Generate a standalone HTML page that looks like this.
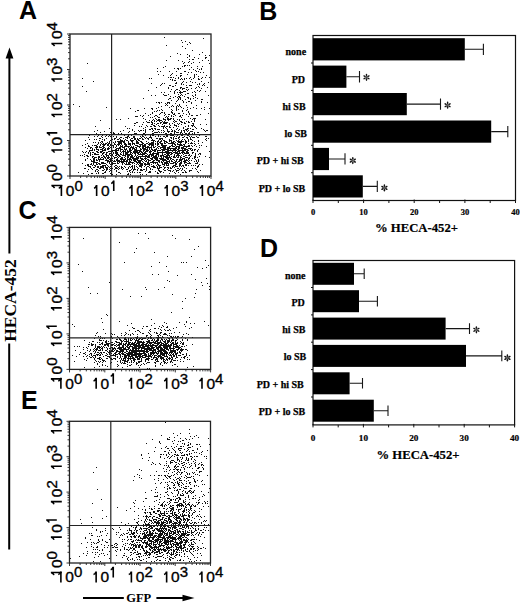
<!DOCTYPE html>
<html><head><meta charset="utf-8"><style>
html,body{margin:0;padding:0;background:#fff;width:520px;height:603px;overflow:hidden}
svg{display:block}
</style></head><body>
<svg width="520" height="603" viewBox="0 0 520 603">
<rect width="520" height="603" fill="#fff"/>
<path d="M145 127.5h1M179 144.5h1M119 144.5h1M192 133.5h1M135 149.5h1M136 158.5h1M178 172.5h1M148 144.5h1M157 166.5h1M109 146.5h1M151 159.5h1M135 154.5h1M174 167.5h1M142 159.5h1M162 162.5h1M135 152.5h1M149 167.5h1M125 156.5h1M130 139.5h1M169 139.5h1M143 133.5h1M129 149.5h1M192 158.5h1M173 150.5h1M169 146.5h1M165 151.5h1M127 138.5h1M107 160.5h1M199 156.5h1M164 170.5h1M125 158.5h1M171 140.5h1M167 153.5h1M170 146.5h1M198 149.5h1M120 143.5h1M156 162.5h1M158 148.5h1M126 146.5h1M157 141.5h1M190 139.5h1M165 159.5h1M134 169.5h1M189 160.5h1M159 139.5h1M158 164.5h1M168 168.5h1M130 167.5h1M168 167.5h1M165 146.5h1M161 162.5h1M114 160.5h1M179 141.5h1M126 144.5h1M119 144.5h1M184 162.5h1M183 172.5h1M174 150.5h1M150 135.5h1M133 157.5h1M108 156.5h1M166 135.5h1M173 156.5h1M132 172.5h1M131 154.5h1M179 160.5h1M169 147.5h1M192 131.5h1M112 162.5h1M162 152.5h1M180 158.5h1M146 161.5h1M168 149.5h1M121 137.5h1M154 149.5h1M189 158.5h1M176 148.5h1M187 151.5h1M165 145.5h1M137 159.5h1M175 152.5h1M128 136.5h1M187 153.5h1M105 143.5h1M174 154.5h1M117 153.5h1M140 161.5h1M134 123.5h1M165 141.5h1M122 141.5h1M140 141.5h1M100 164.5h1M132 162.5h1M148 155.5h1M116 171.5h1M157 163.5h1M137 145.5h1M165 163.5h1M149 155.5h1M178 155.5h1M158 154.5h1M169 162.5h1M151 144.5h1M130 149.5h1M191 170.5h1M129 161.5h1M120 154.5h1M108 136.5h1M140 163.5h1M167 169.5h1M174 143.5h1M127 154.5h1M146 153.5h1M151 148.5h1M155 143.5h1M144 152.5h1M169 156.5h1M182 153.5h1M136 166.5h1M147 164.5h1M133 147.5h1M123 151.5h1M122 163.5h1M132 148.5h1M128 152.5h1M146 167.5h1M145 156.5h1M192 168.5h1M175 163.5h1M178 150.5h1M164 167.5h1M167 167.5h1M192 149.5h1M168 164.5h1M154 156.5h1M117 156.5h1M156 155.5h1M122 149.5h1M127 158.5h1M155 162.5h1M163 158.5h1M115 141.5h1M172 144.5h1M152 154.5h1M133 140.5h1M189 146.5h1M140 165.5h1M125 137.5h1M178 124.5h1M117 150.5h1M161 171.5h1M126 137.5h1M151 147.5h1M131 155.5h1M145 155.5h1M181 157.5h1M149 157.5h1M171 158.5h1M149 143.5h1M145 158.5h1M146 149.5h1M180 174.5h1M129 164.5h1M200 154.5h1M170 163.5h1M132 153.5h1M158 154.5h1M136 151.5h1M133 157.5h1M142 147.5h1M116 168.5h1M160 158.5h1M186 137.5h1M141 158.5h1M178 137.5h1M160 150.5h1M127 156.5h1M181 152.5h1M116 136.5h1M137 157.5h1M193 165.5h1M143 148.5h1M176 146.5h1M162 144.5h1M168 170.5h1M161 149.5h1M135 153.5h1M166 156.5h1M112 158.5h1M144 148.5h1M144 154.5h1M156 154.5h1M110 132.5h1M137 153.5h1M139 166.5h1M144 163.5h1M180 162.5h1M155 171.5h1M178 142.5h1M164 134.5h1M166 160.5h1M110 144.5h1M166 162.5h1M117 161.5h1M119 172.5h1M198 154.5h1M164 140.5h1M178 140.5h1M156 148.5h1M154 156.5h1M124 141.5h1M131 135.5h1M159 162.5h1M147 151.5h1M120 154.5h1M196 160.5h1M134 166.5h1M165 162.5h1M117 152.5h1M166 151.5h1M144 152.5h1M124 140.5h1M121 161.5h1M115 167.5h1M124 166.5h1M154 149.5h1M145 159.5h1M185 171.5h1M175 144.5h1M188 139.5h1M166 152.5h1M168 147.5h1M195 168.5h1M114 169.5h1M127 152.5h1M139 151.5h1M113 156.5h1M154 157.5h1M135 160.5h1M139 138.5h1M139 163.5h1M125 155.5h1M180 142.5h1M166 164.5h1M168 152.5h1M123 155.5h1M148 147.5h1M121 157.5h1M133 162.5h1M102 142.5h1M129 154.5h1M129 159.5h1M141 144.5h1M161 147.5h1M190 143.5h1M138 142.5h1M122 145.5h1M176 160.5h1M120 150.5h1M134 150.5h1M197 150.5h1M170 150.5h1M144 153.5h1M132 158.5h1M142 154.5h1M136 164.5h1M196 163.5h1M143 146.5h1M109 157.5h1M187 153.5h1M179 159.5h1M127 171.5h1M129 158.5h1M133 136.5h1M116 155.5h1M172 161.5h1M158 146.5h1M125 159.5h1M180 160.5h1M178 170.5h1M198 172.5h1M162 149.5h1M164 152.5h1M127 153.5h1M116 146.5h1M105 158.5h1M199 153.5h1M166 163.5h1M187 163.5h1M145 161.5h1M170 143.5h1M127 146.5h1M127 164.5h1M140 157.5h1M150 152.5h1M155 162.5h1M155 146.5h1M139 162.5h1M153 157.5h1M189 157.5h1M158 173.5h1M185 172.5h1M124 163.5h1M146 141.5h1M164 147.5h1M174 149.5h1M134 160.5h1M148 159.5h1M192 153.5h1M149 151.5h1M158 170.5h1M121 161.5h1M123 162.5h1M127 140.5h1M131 159.5h1M186 162.5h1M112 145.5h1M155 158.5h1M107 144.5h1M163 164.5h1M115 134.5h1M117 154.5h1M115 152.5h1M139 156.5h1M150 154.5h1M166 153.5h1M137 157.5h1M126 140.5h1M172 167.5h1M117 158.5h1M174 155.5h1M178 138.5h1M130 148.5h1M157 154.5h1M126 162.5h1M121 133.5h1M149 144.5h1M139 126.5h1M150 169.5h1M152 135.5h1M145 155.5h1M184 163.5h1M133 152.5h1M192 152.5h1M155 157.5h1M127 169.5h1M107 157.5h1M159 167.5h1M145 153.5h1M146 168.5h1M157 151.5h1M122 158.5h1M173 143.5h1M122 162.5h1M164 168.5h1M175 169.5h1M186 151.5h1M171 112.5h1M128 168.5h1M149 160.5h1M151 137.5h1M157 147.5h1M154 140.5h1M163 150.5h1M134 149.5h1M140 153.5h1M153 166.5h1M150 152.5h1M125 164.5h1M199 147.5h1M144 156.5h1M188 153.5h1M170 134.5h1M181 163.5h1M130 148.5h1M146 174.5h1M132 129.5h1M134 138.5h1M121 158.5h1M140 174.5h1M158 161.5h1M153 145.5h1M184 156.5h1M142 164.5h1M154 153.5h1M179 155.5h1M145 145.5h1M119 148.5h1M137 160.5h1M176 163.5h1M188 155.5h1M156 157.5h1M121 152.5h1M181 166.5h1M128 154.5h1M145 164.5h1M161 149.5h1M138 152.5h1M140 158.5h1M186 172.5h1M133 143.5h1M164 164.5h1M112 160.5h1M132 156.5h1M133 151.5h1M194 161.5h1M163 161.5h1M184 170.5h1M104 144.5h1M169 160.5h1M139 160.5h1M166 161.5h1M138 146.5h1M155 144.5h1M132 166.5h1M142 154.5h1M143 148.5h1M110 170.5h1M143 159.5h1M150 147.5h1M138 143.5h1M190 170.5h1M157 167.5h1M160 143.5h1M184 159.5h1M128 151.5h1M125 167.5h1M132 142.5h1M122 151.5h1M154 140.5h1M158 165.5h1M120 161.5h1M164 168.5h1M150 168.5h1M152 169.5h1M178 153.5h1M182 165.5h1M132 156.5h1M124 163.5h1M188 152.5h1M128 147.5h1M168 147.5h1M139 146.5h1M155 157.5h1M147 148.5h1M183 158.5h1M106 164.5h1M140 169.5h1M158 156.5h1M143 153.5h1M142 138.5h1M181 161.5h1M132 140.5h1M163 172.5h1M178 156.5h1M172 130.5h1M172 159.5h1M166 165.5h1M177 166.5h1M139 131.5h1M171 142.5h1M166 161.5h1M187 160.5h1M169 157.5h1M114 138.5h1M150 143.5h1M174 148.5h1M157 138.5h1M136 161.5h1M113 152.5h1M130 140.5h1M177 149.5h1M110 147.5h1M134 158.5h1M139 156.5h1M159 161.5h1M138 153.5h1M170 154.5h1M132 157.5h1M173 170.5h1M185 155.5h1M175 142.5h1M129 164.5h1M164 160.5h1M177 155.5h1M141 144.5h1M121 137.5h1M135 151.5h1M165 154.5h1M113 163.5h1M144 150.5h1M133 158.5h1M172 153.5h1M126 164.5h1M106 143.5h1M145 159.5h1M149 171.5h1M163 155.5h1M131 166.5h1M168 149.5h1M158 140.5h1M187 149.5h1M167 156.5h1M129 163.5h1M162 160.5h1M145 132.5h1M191 143.5h1M107 165.5h1M148 164.5h1M150 150.5h1M138 153.5h1M167 153.5h1M161 147.5h1M140 166.5h1M171 163.5h1M130 143.5h1M155 151.5h1M168 157.5h1M119 155.5h1M143 147.5h1M177 151.5h1M196 161.5h1M198 166.5h1M113 145.5h1M168 167.5h1M168 132.5h1M183 166.5h1M163 160.5h1M166 142.5h1M161 138.5h1M157 153.5h1M152 155.5h1M122 159.5h1M191 145.5h1M166 145.5h1M131 152.5h1M178 151.5h1M132 147.5h1M155 158.5h1M151 158.5h1M131 141.5h1M122 149.5h1M118 141.5h1M118 149.5h1M113 150.5h1M108 145.5h1M179 146.5h1M152 135.5h1M120 147.5h1M161 159.5h1M145 158.5h1M144 164.5h1M129 151.5h1M153 161.5h1M186 168.5h1M148 147.5h1M135 138.5h1M189 171.5h1M133 143.5h1M175 151.5h1M145 165.5h1M178 161.5h1M148 156.5h1M167 129.5h1M143 151.5h1M170 137.5h1M185 160.5h1M167 142.5h1M194 145.5h1M185 161.5h1M176 160.5h1M175 148.5h1M129 170.5h1M195 154.5h1M137 167.5h1M143 154.5h1M120 149.5h1M186 146.5h1M140 149.5h1M164 156.5h1M136 159.5h1M145 163.5h1M135 160.5h1M137 158.5h1M117 159.5h1M157 152.5h1M178 161.5h1M132 171.5h1M129 146.5h1M137 162.5h1M111 171.5h1M165 163.5h1M127 157.5h1M161 156.5h1M183 151.5h1M180 133.5h1M180 168.5h1M192 137.5h1M141 152.5h1M145 157.5h1M115 157.5h1M165 147.5h1M183 165.5h1M140 170.5h1M121 168.5h1M128 152.5h1M177 153.5h1M120 137.5h1M123 159.5h1M140 145.5h1M161 167.5h1M173 156.5h1M123 142.5h1M165 157.5h1M168 148.5h1M141 167.5h1M163 164.5h1M154 160.5h1M119 166.5h1M157 159.5h1M132 138.5h1M153 156.5h1M179 151.5h1M193 137.5h1M158 153.5h1M127 155.5h1M163 159.5h1M138 142.5h1M119 144.5h1M154 132.5h1M174 132.5h1M177 170.5h1M188 145.5h1M134 131.5h1M143 150.5h1M126 152.5h1M144 166.5h1M188 141.5h1M141 164.5h1M183 152.5h1M165 157.5h1M130 148.5h1M167 158.5h1M188 158.5h1M185 142.5h1M121 154.5h1M195 144.5h1M184 160.5h1M134 137.5h1M129 148.5h1M192 140.5h1M149 145.5h1M141 170.5h1M123 142.5h1M159 158.5h1M136 158.5h1M152 162.5h1M156 159.5h1M158 150.5h1M161 144.5h1M170 157.5h1M179 147.5h1M138 150.5h1M171 160.5h1M134 167.5h1M134 168.5h1M181 140.5h1M186 160.5h1M179 141.5h1M128 156.5h1M134 144.5h1M162 163.5h1M170 167.5h1M180 156.5h1M140 172.5h1M180 168.5h1M144 149.5h1M129 137.5h1M130 152.5h1M197 171.5h1M199 164.5h1M116 152.5h1M142 155.5h1M166 128.5h1M118 133.5h1M118 157.5h1M104 131.5h1M175 164.5h1M146 164.5h1M123 138.5h1M175 165.5h1M135 159.5h1M163 136.5h1M142 158.5h1M138 139.5h1M147 146.5h1M105 158.5h1M131 147.5h1M177 141.5h1M189 145.5h1M147 162.5h1M162 143.5h1M167 157.5h1M180 153.5h1M169 143.5h1M120 139.5h1M132 168.5h1M176 160.5h1M168 155.5h1M125 159.5h1M169 150.5h1M181 147.5h1M147 146.5h1M156 157.5h1M116 119.5h1M152 166.5h1M120 156.5h1M165 137.5h1M161 145.5h1M153 145.5h1M104 140.5h1M167 155.5h1M173 152.5h1M132 141.5h1M155 136.5h1M197 167.5h1M122 159.5h1M188 153.5h1M192 143.5h1M177 166.5h1M180 143.5h1M126 160.5h1M157 145.5h1M192 150.5h1M116 137.5h1M180 164.5h1M124 147.5h1M176 156.5h1M164 160.5h1M180 143.5h1M132 163.5h1M142 145.5h1M199 164.5h1M114 166.5h1M124 146.5h1M186 130.5h1M173 148.5h1M115 163.5h1M192 150.5h1M128 156.5h1M198 160.5h1M172 151.5h1M99 147.5h1M110 145.5h1M128 164.5h1M196 136.5h1M171 156.5h1M146 170.5h1M169 162.5h1M141 152.5h1M144 163.5h1M136 151.5h1M190 163.5h1M179 142.5h1M150 152.5h1M140 156.5h1M185 143.5h1M147 164.5h1M124 155.5h1M151 147.5h1M167 150.5h1M168 153.5h1M115 144.5h1M198 159.5h1M153 154.5h1M105 163.5h1M183 154.5h1M181 166.5h1M175 166.5h1M109 154.5h1M167 165.5h1M153 146.5h1M177 143.5h1M149 148.5h1M120 146.5h1M190 148.5h1M176 170.5h1M154 166.5h1M131 150.5h1M164 165.5h1M175 161.5h1M195 154.5h1M114 150.5h1M145 171.5h1M116 154.5h1M130 145.5h1M168 150.5h1M137 138.5h1M124 159.5h1M104 140.5h1M175 131.5h1M164 146.5h1M134 143.5h1M172 143.5h1M167 161.5h1M172 142.5h1M118 167.5h1M141 151.5h1M163 148.5h1M188 140.5h1M166 155.5h1M181 144.5h1M162 154.5h1M182 137.5h1M135 161.5h1M110 159.5h1M130 150.5h1M128 136.5h1M110 151.5h1M131 154.5h1M157 160.5h1M136 143.5h1M142 161.5h1M166 156.5h1M177 157.5h1M164 142.5h1M147 163.5h1M166 163.5h1M179 152.5h1M115 153.5h1M133 170.5h1M168 163.5h1M134 161.5h1M115 153.5h1M134 163.5h1M113 133.5h1M140 151.5h1M119 141.5h1M139 150.5h1M123 151.5h1M137 146.5h1M116 157.5h1M157 173.5h1M173 149.5h1M159 162.5h1M185 140.5h1M173 163.5h1M139 152.5h1M113 153.5h1M174 160.5h1M140 158.5h1M136 156.5h1M163 152.5h1M175 151.5h1M144 153.5h1M150 154.5h1M162 139.5h1M140 146.5h1M155 167.5h1M165 163.5h1M125 159.5h1M205 136.5h1M179 152.5h1M179 151.5h1M185 153.5h1M186 147.5h1M138 154.5h1M186 162.5h1M174 160.5h1M151 146.5h1M167 158.5h1M128 174.5h1M188 148.5h1M150 151.5h1M125 139.5h1M107 152.5h1M169 153.5h1M135 155.5h1M186 162.5h1M133 151.5h1M127 159.5h1M185 165.5h1M146 155.5h1M186 153.5h1M187 150.5h1M122 146.5h1M138 130.5h1M142 156.5h1M179 139.5h1M146 153.5h1M153 152.5h1M161 145.5h1M145 163.5h1M168 154.5h1M96 146.5h1M131 169.5h1M168 164.5h1M150 158.5h1M141 154.5h1M136 145.5h1M121 167.5h1M148 139.5h1M206 146.5h1M150 147.5h1M181 150.5h1M174 162.5h1M192 146.5h1M191 155.5h1M155 158.5h1M145 163.5h1M154 156.5h1M147 146.5h1M176 171.5h1M130 162.5h1M153 156.5h1M176 156.5h1M152 159.5h1M149 152.5h1M110 153.5h1M198 143.5h1M158 169.5h1M136 141.5h1M166 145.5h1M174 172.5h1M174 152.5h1M169 139.5h1M135 139.5h1M135 152.5h1M162 162.5h1M160 141.5h1M159 170.5h1M137 170.5h1M144 145.5h1M170 167.5h1M147 148.5h1M186 165.5h1M118 160.5h1M178 141.5h1M130 154.5h1M148 147.5h1M205 156.5h1M138 158.5h1M121 161.5h1M189 163.5h1M195 149.5h1M145 149.5h1M113 136.5h1M160 150.5h1M131 156.5h1M124 148.5h1M187 138.5h1M150 169.5h1M142 136.5h1M112 162.5h1M139 162.5h1M178 126.5h1M136 142.5h1M135 159.5h1M157 144.5h1M134 139.5h1M163 146.5h1M180 142.5h1M125 150.5h1M151 148.5h1M163 166.5h1M138 164.5h1M133 151.5h1M119 168.5h1M159 146.5h1M174 154.5h1M117 141.5h1M177 144.5h1M182 158.5h1M196 169.5h1M175 153.5h1M157 132.5h1M155 153.5h1M145 147.5h1M156 154.5h1M168 147.5h1M149 156.5h1M165 170.5h1M187 146.5h1M140 154.5h1M136 122.5h1M131 162.5h1M167 153.5h1M159 158.5h1M175 147.5h1M153 144.5h1M140 148.5h1M182 153.5h1M114 161.5h1M134 152.5h1M180 144.5h1M115 152.5h1M174 136.5h1M145 159.5h1M132 144.5h1M188 159.5h1M118 142.5h1M209 157.5h1M142 138.5h1M122 140.5h1M150 160.5h1M194 150.5h1M179 164.5h1M151 143.5h1M155 149.5h1M132 157.5h1M202 164.5h1M151 162.5h1M159 138.5h1M164 143.5h1M178 156.5h1M137 150.5h1M158 144.5h1M132 155.5h1M169 173.5h1M206 136.5h1M173 157.5h1M146 160.5h1M186 153.5h1M166 164.5h1M153 165.5h1M128 151.5h1M142 161.5h1M155 149.5h1M121 149.5h1M155 132.5h1M183 156.5h1M159 152.5h1M164 159.5h1M128 141.5h1M118 148.5h1M124 149.5h1M114 133.5h1M153 150.5h1M159 150.5h1M154 167.5h1M134 172.5h1M124 159.5h1M136 152.5h1M179 165.5h1M155 163.5h1M111 145.5h1M147 159.5h1M119 160.5h1M189 157.5h1M188 165.5h1M157 144.5h1M175 138.5h1M159 142.5h1M183 137.5h1M127 174.5h1M142 144.5h1M166 155.5h1M184 139.5h1M139 160.5h1M162 145.5h1M148 134.5h1M146 147.5h1M171 152.5h1M122 155.5h1M146 147.5h1M151 155.5h1M195 165.5h1M170 146.5h1M171 135.5h1M190 149.5h1M141 141.5h1M154 140.5h1M135 152.5h1M142 153.5h1M184 161.5h1M176 150.5h1M179 147.5h1M167 163.5h1M183 156.5h1M187 160.5h1M180 145.5h1M136 149.5h1M155 156.5h1M133 143.5h1M187 146.5h1M140 153.5h1M192 152.5h1M120 148.5h1M136 147.5h1M147 148.5h1M163 145.5h1M120 158.5h1M126 137.5h1M177 154.5h1M181 155.5h1M112 139.5h1M142 142.5h1M157 172.5h1M169 153.5h1M150 144.5h1M142 147.5h1M170 170.5h1M165 160.5h1M123 161.5h1M173 146.5h1M142 143.5h1M175 149.5h1M167 153.5h1M125 161.5h1M171 141.5h1M148 147.5h1M145 146.5h1M166 149.5h1M126 153.5h1M137 151.5h1M183 146.5h1M131 160.5h1M118 145.5h1M145 153.5h1M158 152.5h1M137 167.5h1M156 155.5h1M153 160.5h1M121 143.5h1M144 169.5h1M171 140.5h1M114 144.5h1M178 150.5h1M171 158.5h1M140 165.5h1M147 166.5h1M122 161.5h1M123 153.5h1M173 146.5h1M182 145.5h1M169 141.5h1M113 142.5h1M110 160.5h1M160 159.5h1M160 141.5h1M171 161.5h1M202 142.5h1M176 152.5h1M186 168.5h1M142 148.5h1M152 150.5h1M188 161.5h1M136 150.5h1M185 148.5h1M152 144.5h1M108 148.5h1M150 160.5h1M160 171.5h1M164 154.5h1M136 143.5h1M170 154.5h1M151 166.5h1M170 171.5h1M127 151.5h1M117 148.5h1M155 159.5h1M208 138.5h1M116 137.5h1M122 140.5h1M177 144.5h1M122 147.5h1M162 147.5h1M155 146.5h1M172 135.5h1M185 165.5h1M119 172.5h1M142 174.5h1M171 150.5h1M115 142.5h1M118 160.5h1M120 148.5h1M191 150.5h1M176 140.5h1M125 145.5h1M111 148.5h1M166 160.5h1M145 157.5h1M121 143.5h1M116 151.5h1M143 139.5h1M121 159.5h1M180 143.5h1M163 155.5h1M191 148.5h1M197 171.5h1M184 145.5h1M152 162.5h1M153 140.5h1M150 144.5h1M116 160.5h1M194 137.5h1M127 137.5h1M140 134.5h1M170 140.5h1M174 156.5h1M150 137.5h1M163 166.5h1M184 156.5h1M164 149.5h1M159 170.5h1M206 140.5h1M113 146.5h1M156 154.5h1M117 160.5h1M118 144.5h1M174 146.5h1M136 162.5h1M147 166.5h1M188 152.5h1M156 165.5h1M189 170.5h1M151 137.5h1M152 153.5h1M194 149.5h1M116 155.5h1M147 143.5h1M120 142.5h1M149 154.5h1M130 157.5h1M178 157.5h1M142 143.5h1M125 151.5h1M191 165.5h1M137 139.5h1M101 152.5h1M132 147.5h1M145 138.5h1M119 147.5h1M114 144.5h1M117 154.5h1M145 146.5h1M152 143.5h1M147 149.5h1M130 154.5h1M153 155.5h1M147 156.5h1M157 150.5h1M182 158.5h1M124 147.5h1M129 158.5h1M124 142.5h1M145 152.5h1M138 160.5h1M160 148.5h1M162 164.5h1M180 121.5h1M159 160.5h1M167 154.5h1M187 138.5h1M162 159.5h1M129 162.5h1M139 163.5h1M109 141.5h1M198 165.5h1M158 135.5h1M144 146.5h1M178 154.5h1M169 141.5h1M162 153.5h1M195 156.5h1M176 166.5h1M158 168.5h1M140 150.5h1M130 174.5h1M106 170.5h1M137 169.5h1M126 154.5h1M115 168.5h1M158 155.5h1M173 127.5h1M166 153.5h1M188 135.5h1M181 152.5h1M160 165.5h1M141 160.5h1M138 161.5h1M147 149.5h1M132 147.5h1M127 152.5h1M152 158.5h1M167 162.5h1M156 158.5h1M164 163.5h1M137 162.5h1M109 128.5h1M116 145.5h1M132 165.5h1M143 154.5h1M127 150.5h1M157 154.5h1M124 161.5h1M154 150.5h1M109 153.5h1M170 149.5h1M191 142.5h1M181 160.5h1M184 152.5h1M122 159.5h1M196 163.5h1M156 160.5h1M127 152.5h1M110 160.5h1M110 164.5h1M157 162.5h1M162 153.5h1M182 139.5h1M152 140.5h1M150 171.5h1M122 157.5h1M188 148.5h1M110 158.5h1M160 156.5h1M130 164.5h1M116 152.5h1M188 155.5h1M172 163.5h1M184 148.5h1M129 143.5h1M145 149.5h1M129 166.5h1M120 151.5h1M131 146.5h1M111 142.5h1M198 141.5h1M128 144.5h1M143 156.5h1M133 148.5h1M174 146.5h1M153 153.5h1M173 150.5h1M115 165.5h1M133 151.5h1M145 158.5h1M166 155.5h1M176 136.5h1M112 151.5h1M141 151.5h1M129 160.5h1M146 169.5h1M141 166.5h1M180 157.5h1M119 156.5h1M120 173.5h1M134 161.5h1M125 154.5h1M140 162.5h1M161 158.5h1M116 153.5h1M141 141.5h1M148 150.5h1M151 138.5h1M123 168.5h1M198 140.5h1M167 156.5h1M130 143.5h1M153 133.5h1M174 144.5h1M174 149.5h1M146 137.5h1M180 159.5h1M153 143.5h1M188 150.5h1M182 150.5h1M148 160.5h1M129 150.5h1M144 150.5h1M189 154.5h1M112 150.5h1M168 168.5h1M158 144.5h1M166 156.5h1M120 151.5h1M171 160.5h1M147 157.5h1M133 160.5h1M182 141.5h1M122 162.5h1M164 162.5h1M146 156.5h1M197 166.5h1M127 164.5h1M141 151.5h1M134 151.5h1M172 146.5h1M165 149.5h1M114 163.5h1M173 165.5h1M118 143.5h1M176 152.5h1M123 147.5h1M161 141.5h1M117 139.5h1M141 142.5h1M169 134.5h1M128 173.5h1M175 157.5h1M130 150.5h1M128 162.5h1M174 141.5h1M135 161.5h1M132 143.5h1M108 147.5h1M180 141.5h1M111 145.5h1M140 148.5h1M164 146.5h1M153 163.5h1M158 136.5h1M141 156.5h1M177 162.5h1M125 149.5h1M110 168.5h1M113 132.5h1M155 128.5h1M171 141.5h1M171 163.5h1M182 149.5h1M143 150.5h1M179 159.5h1M154 156.5h1M136 148.5h1M121 158.5h1M175 153.5h1M132 153.5h1M159 166.5h1M144 156.5h1M194 157.5h1M140 136.5h1M151 151.5h1M169 148.5h1M137 150.5h1M175 153.5h1M167 152.5h1M97 154.5h1M136 152.5h1M145 159.5h1M180 156.5h1M197 163.5h1M130 162.5h1M130 153.5h1M162 158.5h1M167 152.5h1M146 150.5h1M150 153.5h1M193 152.5h1M173 159.5h1M160 155.5h1M178 146.5h1M185 155.5h1M178 146.5h1M121 152.5h1M152 142.5h1M164 163.5h1M183 150.5h1M149 144.5h1M161 161.5h1M168 151.5h1M116 149.5h1M123 154.5h1M128 143.5h1M116 149.5h1M131 155.5h1M108 144.5h1M149 149.5h1M166 123.5h1M143 169.5h1M115 151.5h1M142 153.5h1M117 153.5h1M116 174.5h1M179 152.5h1M186 159.5h1M121 146.5h1M166 165.5h1M124 135.5h1M171 154.5h1M166 158.5h1M157 150.5h1M182 169.5h1M157 164.5h1M122 147.5h1M197 157.5h1M123 153.5h1M138 168.5h1M182 172.5h1M113 136.5h1M127 156.5h1M131 140.5h1M161 157.5h1M171 143.5h1M144 160.5h1M147 159.5h1M156 156.5h1M126 153.5h1M125 154.5h1M151 164.5h1M153 162.5h1M166 157.5h1M148 159.5h1M115 155.5h1M114 143.5h1M158 143.5h1M127 136.5h1M108 161.5h1M149 155.5h1M145 157.5h1M162 159.5h1M134 148.5h1M128 146.5h1M166 155.5h1M170 152.5h1M123 141.5h1M161 155.5h1M185 142.5h1M184 153.5h1M184 149.5h1M140 134.5h1M173 159.5h1M126 149.5h1M121 140.5h1M121 152.5h1M152 139.5h1M164 126.5h1M178 138.5h1M115 153.5h1M198 161.5h1M141 151.5h1M184 158.5h1M183 161.5h1M172 145.5h1M153 146.5h1M173 170.5h1M120 158.5h1M142 163.5h1M188 146.5h1M173 149.5h1M161 143.5h1M179 153.5h1M143 147.5h1M201 145.5h1M143 153.5h1M133 143.5h1M159 171.5h1M136 142.5h1M184 167.5h1M158 156.5h1M130 150.5h1M111 151.5h1M160 167.5h1M115 152.5h1M149 155.5h1M136 158.5h1M173 137.5h1M138 156.5h1M166 161.5h1M139 161.5h1M186 162.5h1M110 153.5h1M109 151.5h1M140 136.5h1M141 167.5h1M143 147.5h1M182 168.5h1M177 157.5h1M119 142.5h1M123 141.5h1M125 145.5h1M122 159.5h1M138 143.5h1M115 138.5h1M128 168.5h1M120 159.5h1M160 152.5h1M197 151.5h1M115 150.5h1M176 155.5h1M150 160.5h1M171 148.5h1M176 161.5h1M168 155.5h1M164 148.5h1M169 148.5h1M183 144.5h1M184 144.5h1M144 146.5h1M141 137.5h1M132 167.5h1M165 151.5h1M124 151.5h1M127 155.5h1M171 153.5h1M154 149.5h1M151 156.5h1M180 132.5h1M163 132.5h1M140 158.5h1M181 142.5h1M161 144.5h1M135 150.5h1M135 155.5h1M147 147.5h1M141 151.5h1M182 158.5h1M124 143.5h1M178 151.5h1M194 141.5h1M159 166.5h1M126 161.5h1M152 157.5h1M159 165.5h1M130 147.5h1M137 142.5h1M182 152.5h1M119 143.5h1M106 160.5h1M172 166.5h1M182 139.5h1M137 143.5h1M143 145.5h1M163 157.5h1M160 142.5h1M149 147.5h1M134 125.5h1M110 166.5h1M172 144.5h1M135 145.5h1M129 150.5h1M118 155.5h1M158 160.5h1M160 136.5h1M137 141.5h1M165 149.5h1M152 149.5h1M167 135.5h1M137 163.5h1M134 165.5h1M147 154.5h1M112 164.5h1M110 144.5h1M155 146.5h1M126 145.5h1M186 155.5h1M109 159.5h1M120 149.5h1M118 169.5h1M140 164.5h1M134 168.5h1M130 153.5h1M139 165.5h1M196 146.5h1M131 154.5h1M129 171.5h1M124 134.5h1M164 150.5h1M167 149.5h1M168 159.5h1M176 164.5h1M118 139.5h1M131 166.5h1M144 158.5h1M151 154.5h1M126 163.5h1M177 159.5h1M103 159.5h1M141 159.5h1M134 137.5h1M120 153.5h1M165 143.5h1M128 163.5h1M157 159.5h1M121 160.5h1M142 170.5h1M156 154.5h1M163 169.5h1M117 166.5h1M151 154.5h1M136 151.5h1M197 162.5h1M169 152.5h1M181 141.5h1M131 138.5h1M144 144.5h1M185 157.5h1M158 140.5h1M195 157.5h1M174 157.5h1M188 143.5h1M153 150.5h1M167 148.5h1M173 162.5h1M153 156.5h1M131 150.5h1M173 148.5h1M140 148.5h1M185 172.5h1M145 130.5h1M161 145.5h1M150 162.5h1M120 141.5h1M128 155.5h1M186 157.5h1M166 136.5h1M142 165.5h1M164 164.5h1M189 162.5h1M167 159.5h1M120 119.5h1M130 158.5h1M186 164.5h1M162 151.5h1M152 145.5h1M136 140.5h1M123 162.5h1M128 132.5h1M143 151.5h1M151 162.5h1M148 161.5h1M182 148.5h1M150 153.5h1M154 158.5h1M184 152.5h1M127 128.5h1M171 138.5h1M159 158.5h1M134 161.5h1M175 142.5h1M112 164.5h1M175 173.5h1M122 163.5h1M155 167.5h1M133 169.5h1M147 156.5h1M155 162.5h1M114 157.5h1M181 150.5h1M145 159.5h1M179 169.5h1M113 163.5h1M145 144.5h1M180 165.5h1M179 166.5h1M167 149.5h1M142 164.5h1M185 164.5h1M116 151.5h1M186 155.5h1M146 160.5h1M182 158.5h1M148 142.5h1M175 150.5h1M119 161.5h1M155 158.5h1M171 137.5h1M194 156.5h1M154 150.5h1M123 150.5h1M170 159.5h1M159 152.5h1M118 163.5h1M130 156.5h1M153 141.5h1M123 155.5h1M186 137.5h1M209 151.5h1M178 148.5h1M164 152.5h1M148 163.5h1M121 142.5h1M162 138.5h1M185 150.5h1M166 153.5h1M134 156.5h1M109 148.5h1M164 142.5h1M121 144.5h1M143 150.5h1M156 153.5h1M123 152.5h1M189 155.5h1M141 165.5h1M156 132.5h1M175 162.5h1M167 163.5h1M140 138.5h1M181 148.5h1M119 147.5h1M128 159.5h1M116 153.5h1M184 145.5h1M156 124.5h1M172 148.5h1M161 152.5h1M151 146.5h1M195 153.5h1M153 162.5h1M130 172.5h1M119 148.5h1M135 169.5h1M165 141.5h1M134 159.5h1M157 158.5h1M148 166.5h1M168 165.5h1M179 161.5h1M139 151.5h1M173 159.5h1M127 156.5h1M187 160.5h1M143 149.5h1M162 150.5h1M156 149.5h1M116 165.5h1M154 162.5h1M115 168.5h1M154 147.5h1M175 138.5h1M116 157.5h1M115 161.5h1M162 152.5h1M136 157.5h1M170 158.5h1M118 150.5h1M165 148.5h1M112 160.5h1M150 137.5h1M177 168.5h1M171 145.5h1M146 151.5h1M149 165.5h1M179 145.5h1M110 140.5h1M172 171.5h1M164 148.5h1M195 155.5h1M138 152.5h1M150 172.5h1M162 147.5h1M138 142.5h1M122 151.5h1M152 161.5h1M146 158.5h1M149 151.5h1M184 156.5h1M141 169.5h1M122 167.5h1M181 170.5h1M183 154.5h1M129 134.5h1M163 140.5h1M149 156.5h1M163 156.5h1M117 144.5h1M183 147.5h1M185 141.5h1M129 149.5h1M166 158.5h1M140 148.5h1M142 135.5h1M172 151.5h1M184 132.5h1M162 163.5h1M149 157.5h1M182 151.5h1M128 155.5h1M150 144.5h1M114 150.5h1M153 147.5h1M119 138.5h1M152 166.5h1M157 157.5h1M134 133.5h1M153 157.5h1M174 165.5h1M162 163.5h1M153 166.5h1M162 155.5h1M130 151.5h1M179 150.5h1M185 146.5h1M129 155.5h1M165 145.5h1M153 142.5h1M182 169.5h1M166 164.5h1M132 149.5h1M121 166.5h1M142 142.5h1M140 160.5h1M163 161.5h1M126 152.5h1M159 129.5h1M173 166.5h1M112 154.5h1M186 162.5h1M179 148.5h1M110 155.5h1M158 155.5h1M115 149.5h1M138 156.5h1M118 154.5h1M167 148.5h1M112 154.5h1M128 157.5h1M195 163.5h1M178 149.5h1M169 153.5h1M169 155.5h1M135 161.5h1M110 159.5h1M129 164.5h1M177 135.5h1M164 147.5h1M185 133.5h1M148 172.5h1M160 171.5h1M179 151.5h1M156 156.5h1M130 159.5h1M154 160.5h1M187 157.5h1M127 128.5h1M124 157.5h1M127 156.5h1M153 144.5h1M190 156.5h1M155 150.5h1M137 146.5h1M175 145.5h1M126 148.5h1M157 142.5h1M186 142.5h1M165 152.5h1M120 147.5h1M141 159.5h1M144 144.5h1M165 167.5h1M159 168.5h1M168 161.5h1M130 148.5h1M133 159.5h1M165 156.5h1M161 140.5h1M145 135.5h1M123 130.5h1M121 141.5h1M142 145.5h1M113 147.5h1M146 164.5h1M177 151.5h1M140 154.5h1M128 141.5h1M120 147.5h1M184 162.5h1M155 155.5h1M135 147.5h1M183 151.5h1M195 159.5h1M155 143.5h1M140 172.5h1M139 147.5h1M138 162.5h1M178 168.5h1M173 156.5h1M183 141.5h1M116 170.5h1M123 155.5h1M153 153.5h1M155 158.5h1M152 158.5h1M153 155.5h1M183 151.5h1M148 138.5h1M147 151.5h1M140 144.5h1M149 172.5h1M164 147.5h1M169 143.5h1M184 158.5h1M145 151.5h1M119 160.5h1M153 167.5h1M137 159.5h1M169 161.5h1M178 144.5h1M124 160.5h1M177 146.5h1M129 144.5h1M155 141.5h1M110 153.5h1M189 148.5h1M143 162.5h1M125 164.5h1M187 137.5h1M109 142.5h1M128 164.5h1M149 163.5h1M128 135.5h1M129 150.5h1M186 141.5h1M133 137.5h1M158 155.5h1M125 144.5h1M159 166.5h1M127 154.5h1M144 145.5h1M142 139.5h1M134 153.5h1M170 148.5h1M121 162.5h1M183 144.5h1M165 167.5h1M137 157.5h1M162 155.5h1M117 163.5h1M123 160.5h1M131 157.5h1M162 143.5h1M163 147.5h1M143 150.5h1M134 150.5h1M141 149.5h1M165 163.5h1M157 157.5h1M155 156.5h1M120 145.5h1M129 150.5h1M183 148.5h1M140 166.5h1M190 137.5h1M116 160.5h1M166 164.5h1M132 153.5h1M178 151.5h1M130 156.5h1M156 138.5h1M198 159.5h1M176 159.5h1M157 168.5h1M139 140.5h1M147 157.5h1M114 158.5h1M102 173.5h1M141 163.5h1M116 159.5h1M118 150.5h1M150 144.5h1M173 142.5h1M181 162.5h1M100 151.5h1M142 138.5h1M167 147.5h1M171 145.5h1M127 140.5h1M107 148.5h1M136 152.5h1M125 126.5h1M122 169.5h1M109 151.5h1M162 146.5h1M125 152.5h1M125 153.5h1M138 157.5h1M158 141.5h1M118 172.5h1M149 165.5h1M171 168.5h1M191 160.5h1M181 159.5h1M190 149.5h1M194 143.5h1M162 162.5h1M162 153.5h1M145 131.5h1M164 145.5h1M191 170.5h1M151 145.5h1M142 152.5h1M182 152.5h1M151 149.5h1M124 144.5h1M131 150.5h1M128 142.5h1M186 149.5h1M164 143.5h1M157 147.5h1M117 162.5h1M126 169.5h1M136 133.5h1M148 162.5h1M122 164.5h1M151 142.5h1M118 141.5h1M112 155.5h1M114 139.5h1M127 159.5h1M174 157.5h1M128 167.5h1M129 131.5h1M169 152.5h1M199 145.5h1M170 170.5h1M116 148.5h1M134 172.5h1M127 160.5h1M109 146.5h1M149 137.5h1M110 136.5h1M177 153.5h1M141 166.5h1M125 149.5h1M127 157.5h1M144 145.5h1M176 147.5h1M156 134.5h1M133 146.5h1M157 154.5h1M145 148.5h1M155 156.5h1M197 157.5h1M156 159.5h1M112 155.5h1M165 159.5h1M137 152.5h1M170 168.5h1M157 158.5h1M142 146.5h1M136 161.5h1M111 164.5h1M190 134.5h1M135 158.5h1M112 134.5h1M139 154.5h1M178 147.5h1M168 143.5h1M189 160.5h1M163 161.5h1M177 152.5h1M176 153.5h1M194 145.5h1M194 158.5h1M141 160.5h1M172 150.5h1M146 161.5h1M180 163.5h1M162 150.5h1M148 157.5h1M116 167.5h1M172 144.5h1M118 155.5h1M130 161.5h1M159 142.5h1M176 153.5h1M144 160.5h1M154 151.5h1M159 160.5h1M130 157.5h1M163 149.5h1M179 163.5h1M175 134.5h1M130 170.5h1M139 144.5h1M116 150.5h1M135 133.5h1M122 146.5h1M153 141.5h1M125 146.5h1M149 155.5h1M139 172.5h1M119 156.5h1M136 148.5h1M157 150.5h1M140 163.5h1M143 143.5h1M182 158.5h1M149 164.5h1M187 152.5h1M174 154.5h1M152 166.5h1M129 163.5h1M167 151.5h1M119 134.5h1M127 161.5h1M133 158.5h1M181 145.5h1M200 170.5h1M175 150.5h1M184 150.5h1M130 144.5h1M176 160.5h1M119 162.5h1M138 156.5h1M184 159.5h1M168 158.5h1M184 158.5h1M179 145.5h1M125 156.5h1M137 155.5h1M184 146.5h1M171 156.5h1M180 150.5h1M117 168.5h1M186 152.5h1M160 152.5h1M123 159.5h1M182 159.5h1M185 162.5h1M151 140.5h1M177 154.5h1M187 160.5h1M159 160.5h1M188 163.5h1M182 151.5h1M127 151.5h1M119 161.5h1M113 161.5h1M147 150.5h1M160 165.5h1M115 138.5h1M113 152.5h1M195 159.5h1M174 150.5h1M137 172.5h1M182 147.5h1M157 159.5h1M125 143.5h1M152 144.5h1M142 161.5h1M162 138.5h1M140 156.5h1M163 156.5h1M171 142.5h1M146 143.5h1M144 160.5h1M95 154.5h1M95 165.5h1M86 151.5h1M94 153.5h1M109 159.5h1M97 151.5h1M88 137.5h1M107 155.5h1M103 170.5h1M112 158.5h1M104 147.5h1M98 172.5h1M106 138.5h1M98 163.5h1M89 166.5h1M105 166.5h1M78 172.5h1M96 133.5h1M91 161.5h1M105 144.5h1M103 148.5h1M103 146.5h1M107 158.5h1M95 153.5h1M85 152.5h1M94 154.5h1M104 172.5h1M109 135.5h1M94 150.5h1M97 171.5h1M101 163.5h1M106 138.5h1M103 152.5h1M105 172.5h1M94 154.5h1M98 157.5h1M96 149.5h1M100 144.5h1M110 161.5h1M100 158.5h1M109 167.5h1M104 156.5h1M102 159.5h1M96 169.5h1M97 169.5h1M96 148.5h1M101 157.5h1M106 138.5h1M110 173.5h1M88 174.5h1M112 154.5h1M90 164.5h1M101 159.5h1M100 142.5h1M96 160.5h1M103 155.5h1M98 167.5h1M116 148.5h1M82 151.5h1M102 162.5h1M108 160.5h1M103 159.5h1M96 151.5h1M97 162.5h1M100 168.5h1M99 163.5h1M112 168.5h1M110 151.5h1M96 163.5h1M102 151.5h1M106 153.5h1M108 151.5h1M107 162.5h1M96 159.5h1M99 156.5h1M92 152.5h1M102 163.5h1M96 162.5h1M101 151.5h1M93 162.5h1M105 150.5h1M103 150.5h1M93 159.5h1M98 157.5h1M101 163.5h1M95 126.5h1M105 160.5h1M96 164.5h1M99 161.5h1M103 148.5h1M97 171.5h1M102 167.5h1M107 161.5h1M97 136.5h1M105 154.5h1M88 164.5h1M102 151.5h1M94 162.5h1M88 156.5h1M109 171.5h1M98 150.5h1M101 155.5h1M117 156.5h1M104 163.5h1M104 169.5h1M99 138.5h1M87 165.5h1M94 145.5h1M105 154.5h1M100 166.5h1M93 142.5h1M99 159.5h1M96 173.5h1M115 147.5h1M100 166.5h1M97 152.5h1M98 163.5h1M93 161.5h1M98 159.5h1M100 158.5h1M87 156.5h1M104 145.5h1M109 162.5h1M92 150.5h1M103 163.5h1M96 139.5h1M101 141.5h1M110 164.5h1M98 166.5h1M90 147.5h1M111 172.5h1M94 149.5h1M114 157.5h1M107 168.5h1M102 150.5h1M105 157.5h1M100 166.5h1M98 142.5h1M106 154.5h1M83 173.5h1M102 141.5h1M96 151.5h1M106 155.5h1M95 157.5h1M88 165.5h1M118 161.5h1M91 163.5h1M94 136.5h1M107 160.5h1M107 145.5h1M92 149.5h1M96 163.5h1M98 149.5h1M102 144.5h1M83 152.5h1M92 154.5h1M99 146.5h1M105 148.5h1M94 161.5h1M110 144.5h1M88 164.5h1M89 146.5h1M84 156.5h1M103 144.5h1M90 159.5h1M102 148.5h1M106 169.5h1M88 152.5h1M92 173.5h1M95 142.5h1M110 136.5h1M98 173.5h1M100 120.5h1M103 147.5h1M94 158.5h1M104 152.5h1M107 149.5h1M93 167.5h1M101 147.5h1M97 130.5h1M103 158.5h1M89 150.5h1M112 163.5h1M100 166.5h1M99 140.5h1M93 156.5h1M109 163.5h1M102 149.5h1M113 161.5h1M101 136.5h1M91 164.5h1M120 131.5h1M101 162.5h1M106 135.5h1M97 146.5h1M97 166.5h1M103 143.5h1M105 148.5h1M101 163.5h1M92 165.5h1M90 150.5h1M102 139.5h1M95 170.5h1M107 167.5h1M100 149.5h1M100 138.5h1M93 158.5h1M103 168.5h1M99 147.5h1M100 152.5h1M102 137.5h1M98 143.5h1M88 165.5h1M103 167.5h1M108 166.5h1M85 160.5h1M96 154.5h1M105 136.5h1M100 167.5h1M87 171.5h1M104 157.5h1M108 161.5h1M88 153.5h1M97 151.5h1M87 143.5h1M97 149.5h1M120 140.5h1M97 160.5h1M99 157.5h1M95 145.5h1M99 164.5h1M111 156.5h1M95 162.5h1M103 150.5h1M97 167.5h1M105 171.5h1M94 165.5h1M92 161.5h1M106 156.5h1M116 153.5h1M86 155.5h1M94 157.5h1M97 146.5h1M88 153.5h1M100 164.5h1M99 160.5h1M89 139.5h1M109 169.5h1M94 154.5h1M106 152.5h1M106 164.5h1M110 158.5h1M108 157.5h1M103 163.5h1M100 144.5h1M94 160.5h1M106 164.5h1M105 166.5h1M98 156.5h1M96 163.5h1M109 161.5h1M93 164.5h1M96 157.5h1M84 168.5h1M94 165.5h1M105 149.5h1M105 167.5h1M94 167.5h1M92 161.5h1M111 148.5h1M102 167.5h1M103 156.5h1M109 162.5h1M104 149.5h1M94 134.5h1M105 157.5h1M100 145.5h1M111 149.5h1M98 158.5h1M80 155.5h1M104 150.5h1M89 135.5h1M103 153.5h1M90 148.5h1M102 153.5h1M93 163.5h1M92 157.5h1M102 166.5h1M91 150.5h1M97 149.5h1M104 149.5h1M97 144.5h1M106 155.5h1M92 161.5h1M111 144.5h1M104 165.5h1M101 151.5h1M93 160.5h1M107 169.5h1M104 156.5h1M102 146.5h1M101 134.5h1M92 154.5h1M103 163.5h1M109 153.5h1M103 162.5h1M98 166.5h1M82 163.5h1M92 148.5h1M101 166.5h1M92 169.5h1M96 149.5h1M111 144.5h1M97 149.5h1M105 149.5h1M108 155.5h1M90 152.5h1M100 159.5h1M88 169.5h1M103 155.5h1M103 167.5h1M90 167.5h1M100 147.5h1M92 156.5h1M88 166.5h1M117 159.5h1M112 174.5h1M90 166.5h1M97 147.5h1M108 160.5h1M102 135.5h1M91 168.5h1M107 158.5h1M101 152.5h1M82 145.5h1M99 147.5h1M102 157.5h1M91 160.5h1M98 170.5h1M96 151.5h1M93 152.5h1M101 162.5h1M103 156.5h1M107 155.5h1M104 139.5h1M102 146.5h1M106 167.5h1M91 147.5h1M87 158.5h1M111 153.5h1M94 154.5h1M104 144.5h1M106 154.5h1M108 158.5h1M102 165.5h1M87 164.5h1M89 151.5h1M113 142.5h1M85 140.5h1M92 157.5h1M84 154.5h1M101 149.5h1M109 143.5h1M87 155.5h1M94 150.5h1M108 156.5h1M101 167.5h1M102 151.5h1M93 152.5h1M99 163.5h1M98 154.5h1M97 166.5h1M90 155.5h1M103 166.5h1M100 132.5h1M112 168.5h1M91 150.5h1M102 153.5h1M92 145.5h1M96 145.5h1M90 153.5h1M101 143.5h1M103 166.5h1M107 149.5h1M85 147.5h1M99 168.5h1M90 154.5h1M103 145.5h1M85 144.5h1M112 134.5h1M102 170.5h1M88 145.5h1M85 159.5h1M107 145.5h1M98 152.5h1M85 168.5h1M102 149.5h1M91 173.5h1M95 166.5h1M110 159.5h1M107 157.5h1M106 156.5h1M106 159.5h1M85 165.5h1M88 146.5h1M110 170.5h1M99 161.5h1M102 154.5h1M96 147.5h1M106 168.5h1M94 159.5h1M104 150.5h1M82 155.5h1M98 135.5h1M103 173.5h1M108 143.5h1M102 153.5h1M100 144.5h1M86 155.5h1M94 139.5h1M87 148.5h1M90 152.5h1M94 131.5h1M107 142.5h1M102 173.5h1M100 166.5h1M107 158.5h1M103 165.5h1M108 149.5h1M105 165.5h1M107 149.5h1M95 171.5h1M107 160.5h1M95 147.5h1M85 159.5h1M97 164.5h1M114 163.5h1M165 119.5h1M173 141.5h1M147 122.5h1M168 116.5h1M177 128.5h1M159 120.5h1M152 129.5h1M188 130.5h1M175 149.5h1M150 126.5h1M177 128.5h1M167 134.5h1M164 119.5h1M147 138.5h1M186 110.5h1M194 132.5h1M161 130.5h1M177 119.5h1M152 120.5h1M174 113.5h1M164 123.5h1M132 130.5h1M179 137.5h1M150 126.5h1M160 134.5h1M156 121.5h1M194 118.5h1M173 114.5h1M137 116.5h1M169 127.5h1M154 126.5h1M176 132.5h1M149 122.5h1M197 115.5h1M189 132.5h1M158 129.5h1M204 130.5h1M190 118.5h1M151 121.5h1M194 119.5h1M173 116.5h1M140 130.5h1M169 119.5h1M192 131.5h1M169 114.5h1M190 131.5h1M150 129.5h1M175 147.5h1M195 127.5h1M188 112.5h1M160 138.5h1M135 111.5h1M155 126.5h1M141 130.5h1M173 121.5h1M167 135.5h1M163 128.5h1M191 131.5h1M143 122.5h1M150 114.5h1M193 129.5h1M160 120.5h1M136 116.5h1M193 123.5h1M169 131.5h1M151 122.5h1M174 131.5h1M187 129.5h1M187 134.5h1M174 120.5h1M187 128.5h1M169 124.5h1M189 133.5h1M164 141.5h1M200 124.5h1M161 126.5h1M183 128.5h1M173 138.5h1M143 115.5h1M169 140.5h1M170 118.5h1M198 132.5h1M171 133.5h1M135 134.5h1M167 130.5h1M163 130.5h1M172 105.5h1M179 116.5h1M206 138.5h1M144 133.5h1M142 116.5h1M145 131.5h1M186 133.5h1M173 118.5h1M155 115.5h1M181 121.5h1M165 134.5h1M206 130.5h1M163 126.5h1M165 120.5h1M153 125.5h1M187 135.5h1M167 136.5h1M165 123.5h1M152 108.5h1M140 115.5h1M165 122.5h1M149 120.5h1M176 140.5h1M165 127.5h1M184 136.5h1M182 122.5h1M198 137.5h1M187 149.5h1M143 128.5h1M145 119.5h1M158 125.5h1M167 119.5h1M154 116.5h1M164 121.5h1M180 121.5h1M153 130.5h1M157 123.5h1M172 144.5h1M128 118.5h1M146 121.5h1M152 122.5h1M173 135.5h1M191 115.5h1M179 141.5h1M154 121.5h1M186 133.5h1M118 134.5h1M181 132.5h1M196 128.5h1M199 135.5h1M167 118.5h1M151 95.5h1M192 129.5h1M177 128.5h1M164 113.5h1M172 110.5h1M167 117.5h1M180 115.5h1M162 121.5h1M176 138.5h1M184 122.5h1M153 119.5h1M186 129.5h1M178 113.5h1M175 125.5h1M165 133.5h1M188 126.5h1M150 151.5h1M168 131.5h1M164 125.5h1M163 122.5h1M187 129.5h1M174 130.5h1M183 127.5h1M163 123.5h1M168 131.5h1M173 119.5h1M167 130.5h1M191 125.5h1M152 133.5h1M164 115.5h1M192 119.5h1M145 129.5h1M193 118.5h1M173 118.5h1M163 122.5h1M178 132.5h1M188 128.5h1M181 134.5h1M196 105.5h1M158 119.5h1M151 108.5h1M143 128.5h1M159 110.5h1M148 122.5h1M189 122.5h1M160 122.5h1M159 119.5h1M179 123.5h1M186 129.5h1M163 123.5h1M179 129.5h1M179 120.5h1M169 126.5h1M159 114.5h1M154 111.5h1M162 138.5h1M181 124.5h1M159 126.5h1M164 119.5h1M145 134.5h1M191 121.5h1M164 112.5h1M158 107.5h1M154 123.5h1M172 112.5h1M180 121.5h1M181 117.5h1M188 130.5h1M158 123.5h1M138 140.5h1M174 122.5h1M161 132.5h1M151 124.5h1M201 128.5h1M176 126.5h1M163 118.5h1M138 130.5h1M174 124.5h1M137 110.5h1M186 121.5h1M170 137.5h1M181 122.5h1M150 117.5h1M156 115.5h1M171 129.5h1M208 113.5h1M182 133.5h1M161 120.5h1M158 131.5h1M177 123.5h1M143 118.5h1M169 107.5h1M167 126.5h1M154 120.5h1M162 124.5h1M189 113.5h1M173 127.5h1M166 134.5h1M194 120.5h1M143 136.5h1M156 111.5h1M141 126.5h1M171 135.5h1M162 112.5h1M190 138.5h1M176 125.5h1M189 136.5h1M170 119.5h1M147 126.5h1M167 122.5h1M156 102.5h1M181 135.5h1M153 135.5h1M170 125.5h1M182 122.5h1M155 129.5h1M179 119.5h1M143 130.5h1M184 131.5h1M170 133.5h1M190 128.5h1M159 121.5h1M166 122.5h1M192 125.5h1M171 111.5h1M166 126.5h1M187 135.5h1M192 126.5h1M157 129.5h1M155 118.5h1M157 143.5h1M156 119.5h1M164 131.5h1M148 115.5h1M157 120.5h1M129 128.5h1M151 128.5h1M171 129.5h1M175 115.5h1M170 135.5h1M187 131.5h1M168 116.5h1M170 127.5h1M164 136.5h1M160 136.5h1M176 129.5h1M168 116.5h1M184 123.5h1M184 119.5h1M168 120.5h1M195 127.5h1M173 139.5h1M152 124.5h1M160 123.5h1M163 127.5h1M167 131.5h1M181 131.5h1M169 114.5h1M171 131.5h1M158 120.5h1M181 131.5h1M156 108.5h1M152 112.5h1M172 131.5h1M163 128.5h1M161 122.5h1M135 116.5h1M177 132.5h1M138 110.5h1M137 122.5h1M179 136.5h1M191 139.5h1M134 136.5h1M152 113.5h1M144 108.5h1M171 116.5h1M178 132.5h1M162 121.5h1M176 108.5h1M150 137.5h1M144 137.5h1M164 122.5h1M206 124.5h1M156 124.5h1M207 130.5h1M151 121.5h1M182 119.5h1M180 116.5h1M204 109.5h1M188 122.5h1M152 131.5h1M141 130.5h1M171 118.5h1M145 113.5h1M164 142.5h1M174 133.5h1M151 126.5h1M146 125.5h1M171 115.5h1M150 136.5h1M194 126.5h1M161 106.5h1M185 129.5h1M163 119.5h1M165 120.5h1M162 126.5h1M173 127.5h1M142 124.5h1M149 129.5h1M159 134.5h1M205 139.5h1M191 136.5h1M159 117.5h1M169 123.5h1M205 119.5h1M192 123.5h1M170 125.5h1M200 153.5h1M176 121.5h1M135 123.5h1M164 134.5h1M172 135.5h1M197 137.5h1M145 129.5h1M168 119.5h1M174 125.5h1M160 147.5h1M193 98.5h1M180 116.5h1M169 98.5h1M179 92.5h1M182 89.5h1M198 76.5h1M194 121.5h1M202 66.5h1M208 95.5h1M183 101.5h1M179 113.5h1M185 65.5h1M176 71.5h1M207 87.5h1M180 97.5h1M203 72.5h1M185 94.5h1M195 94.5h1M191 79.5h1M159 102.5h1M176 134.5h1M188 72.5h1M172 79.5h1M169 85.5h1M171 74.5h1M189 69.5h1M193 78.5h1M158 117.5h1M195 70.5h1M208 82.5h1M174 92.5h1M186 87.5h1M196 87.5h1M205 77.5h1M173 97.5h1M197 84.5h1M189 85.5h1M202 52.5h1M171 111.5h1M205 58.5h1M163 118.5h1M182 82.5h1M173 77.5h1M187 93.5h1M189 78.5h1M182 92.5h1M195 82.5h1M169 103.5h1M170 85.5h1M180 79.5h1M171 100.5h1M172 113.5h1M199 79.5h1M163 67.5h1M175 83.5h1M182 88.5h1M165 95.5h1M181 94.5h1M186 82.5h1M195 118.5h1M189 56.5h1M203 129.5h1M202 60.5h1M194 133.5h1M182 66.5h1M185 149.5h1M180 106.5h1M201 81.5h1M190 99.5h1M183 84.5h1M184 78.5h1M180 95.5h1M165 123.5h1M184 119.5h1M197 132.5h1M183 88.5h1M168 118.5h1M194 57.5h1M183 130.5h1M187 54.5h1M201 99.5h1M182 149.5h1M183 108.5h1M201 68.5h1M202 85.5h1M181 107.5h1M182 110.5h1M168 99.5h1M188 116.5h1M154 125.5h1M154 128.5h1M152 128.5h1M193 125.5h1M171 89.5h1M159 132.5h1M184 62.5h1M190 77.5h1M177 92.5h1M175 96.5h1M176 109.5h1M194 74.5h1M178 130.5h1M176 83.5h1M194 77.5h1M166 45.5h1M172 73.5h1M188 93.5h1M193 62.5h1M186 114.5h1M199 87.5h1M164 152.5h1M165 159.5h1M170 91.5h1M186 85.5h1M206 75.5h1M179 90.5h1M192 115.5h1M178 94.5h1M178 77.5h1M180 98.5h1M174 68.5h1M166 116.5h1M167 105.5h1M180 75.5h1M205 57.5h1M180 92.5h1M172 80.5h1M172 112.5h1M175 90.5h1M182 61.5h1M187 97.5h1M182 79.5h1M182 89.5h1M169 170.5h1M181 87.5h1M165 66.5h1M183 63.5h1M162 110.5h1M176 82.5h1M169 71.5h1M187 65.5h1M199 54.5h1M176 101.5h1M166 133.5h1M165 117.5h1M182 42.5h1M192 82.5h1M178 99.5h1M200 114.5h1M199 84.5h1M168 131.5h1M188 121.5h1M170 96.5h1M184 91.5h1M201 101.5h1M191 72.5h1M181 78.5h1M172 123.5h1M178 148.5h1M155 95.5h1M176 107.5h1M170 77.5h1M187 57.5h1M195 88.5h1M190 98.5h1M154 121.5h1M175 85.5h1M178 106.5h1M203 84.5h1M178 68.5h1M161 106.5h1M183 102.5h1M187 44.5h1M181 75.5h1M160 85.5h1M203 38.5h1M184 91.5h1M185 126.5h1M198 86.5h1M205 58.5h1M177 100.5h1M205 131.5h1M191 125.5h1M182 111.5h1M172 86.5h1M200 72.5h1M197 90.5h1M182 46.5h1M164 95.5h1M176 106.5h1M184 96.5h1M206 57.5h1M189 101.5h1M193 107.5h1M180 99.5h1M168 119.5h1M164 37.5h1M174 91.5h1M196 108.5h1M158 102.5h1M179 96.5h1M204 83.5h1M198 79.5h1M167 103.5h1M191 88.5h1M194 76.5h1M169 102.5h1M201 69.5h1M176 136.5h1M175 80.5h1M185 123.5h1M168 77.5h1M197 98.5h1M201 108.5h1M190 128.5h1M168 94.5h1M191 103.5h1M188 125.5h1M157 68.5h1M199 91.5h1M143 98.5h1M201 78.5h1M180 54.5h1M168 114.5h1M178 60.5h1M161 84.5h1M192 59.5h1M196 71.5h1M180 91.5h1M184 130.5h1M178 96.5h1M188 133.5h1M186 89.5h1M186 105.5h1M196 74.5h1M152 109.5h1M188 97.5h1M153 145.5h1M179 104.5h1M184 66.5h1M184 71.5h1M180 68.5h1M193 96.5h1M151 83.5h1M186 102.5h1M168 88.5h1M187 107.5h1M194 75.5h1M165 105.5h1M181 40.5h1M191 67.5h1M190 81.5h1M188 101.5h1M171 112.5h1M149 78.5h1M188 62.5h1M166 95.5h1M161 92.5h1M165 114.5h1M180 93.5h1M169 107.5h1M175 78.5h1M199 62.5h1M159 103.5h1M195 95.5h1M183 91.5h1M181 130.5h1M193 124.5h1M202 99.5h1M160 71.5h1M188 98.5h1M189 61.5h1M163 75.5h1M180 88.5h1M184 79.5h1M178 98.5h1M204 85.5h1M202 77.5h1M157 110.5h1M160 113.5h1M183 81.5h1M209 108.5h1M191 102.5h1M168 87.5h1M163 128.5h1M191 85.5h1M197 66.5h1M185 48.5h1M188 111.5h1M195 100.5h1M198 58.5h1M148 90.5h1M185 99.5h1M179 123.5h1M187 87.5h1M209 77.5h1M174 114.5h1M205 91.5h1M192 92.5h1M187 90.5h1M200 90.5h1M199 83.5h1M180 87.5h1M195 97.5h1M164 83.5h1M171 77.5h1M166 141.5h1M205 57.5h1M176 75.5h1M161 112.5h1M170 98.5h1M185 91.5h1M182 115.5h1M160 139.5h1M168 102.5h1M177 97.5h1M188 89.5h1M182 135.5h1M201 88.5h1M191 63.5h1M193 59.5h1M182 100.5h1M209 55.5h1M184 88.5h1M189 114.5h1M160 172.5h1M173 97.5h1M185 71.5h1M177 53.5h1M189 42.5h1M180 73.5h1M179 105.5h1M181 73.5h1M171 106.5h1M157 116.5h1M194 91.5h1M187 74.5h1M151 78.5h1M171 109.5h1M190 85.5h1M182 95.5h1M185 41.5h1M177 89.5h1M173 106.5h1M173 86.5h1M192 50.5h1M201 102.5h1M209 63.5h1M166 60.5h1M175 103.5h1M196 115.5h1M177 68.5h1M152 117.5h1M175 121.5h1M178 77.5h1M189 59.5h1M170 79.5h1M163 94.5h1M192 95.5h1M179 97.5h1M184 65.5h1M193 69.5h1M166 104.5h1M195 92.5h1M164 92.5h1M190 108.5h1M181 84.5h1M207 102.5h1M148 146.5h1M198 71.5h1M174 80.5h1M178 69.5h1M167 102.5h1M170 75.5h1M178 78.5h1M180 76.5h1M189 55.5h1M174 93.5h1M177 105.5h1M162 83.5h1M178 109.5h1M176 110.5h1M198 78.5h1M197 68.5h1M170 56.5h1M165 103.5h1M187 109.5h1M156 87.5h1M205 55.5h1M176 89.5h1M161 109.5h1M182 122.5h1M179 129.5h1M189 65.5h1M199 69.5h1M181 92.5h1M175 121.5h1M73 104.5h1M106 107.5h1M82 78.5h1M79 106.5h1M82 86.5h1M93 81.5h1M86 91.5h1M87 63.5h1M208 60.5h1M161 102.5h1M157 71.5h1M204 107.5h1M158 74.5h1M172 112.5h1M186 78.5h1M130 108.5h1M183 113.5h1M190 43.5h1M152 123.5h1M181 83.5h1" stroke="#111" stroke-width="1" fill="none"/>
<rect x="70" y="34" width="141" height="142" fill="none" stroke="#222" stroke-width="1.3"/>
<line x1="111.6" y1="34" x2="111.6" y2="176" stroke="#222" stroke-width="1.2"/>
<line x1="70" y1="134.6" x2="211" y2="134.6" stroke="#222" stroke-width="1.2"/>
<path d="M70.0 176v3M70 176.0h-3M80.6 176v2M70 165.3h-2M86.8 176v2M70 159.1h-2M91.2 176v2M70 154.6h-2M94.6 176v2M70 151.2h-2M97.4 176v2M70 148.4h-2M99.8 176v2M70 146.0h-2M101.8 176v2M70 143.9h-2M103.6 176v2M70 142.1h-2M105.2 176v3M70 140.5h-3M115.9 176v2M70 129.8h-2M122.1 176v2M70 123.6h-2M126.5 176v2M70 119.1h-2M129.9 176v2M70 115.7h-2M132.7 176v2M70 112.9h-2M135.0 176v2M70 110.5h-2M137.1 176v2M70 108.4h-2M138.9 176v2M70 106.6h-2M140.5 176v3M70 105.0h-3M151.1 176v2M70 94.3h-2M157.3 176v2M70 88.1h-2M161.7 176v2M70 83.6h-2M165.1 176v2M70 80.2h-2M167.9 176v2M70 77.4h-2M170.3 176v2M70 75.0h-2M172.3 176v2M70 72.9h-2M174.1 176v2M70 71.1h-2M175.8 176v3M70 69.5h-3M186.4 176v2M70 58.8h-2M192.6 176v2M70 52.6h-2M197.0 176v2M70 48.1h-2M200.4 176v2M70 44.7h-2M203.2 176v2M70 41.9h-2M205.5 176v2M70 39.5h-2M207.6 176v2M70 37.4h-2M209.4 176v2M70 35.6h-2M211 176v3M70 34h-3" stroke="#222" stroke-width="0.9" fill="none"/>
<g transform="translate(70.00,196)" font-family="'Liberation Sans', sans-serif" stroke="#000" stroke-width="0.35"><path d="M-8.61 0.00V-10.93M-8.81 -10.43Q-9.51 -8.29 -11.24 -7.83" stroke-width="1.6" fill="none"/><text x="-4.17" y="0" font-size="15.5">0</text><text x="4.45" y="-5" font-size="15">0</text></g>
<g transform="translate(62.3,176.90) rotate(-90)" font-family="'Liberation Sans', sans-serif" stroke="#000" stroke-width="0.35"><path d="M-8.61 0.00V-10.93M-8.81 -10.43Q-9.51 -8.29 -11.24 -7.83" stroke-width="1.6" fill="none"/><text x="-4.17" y="0" font-size="15.5">0</text><text x="4.45" y="-5" font-size="15">0</text></g>
<g transform="translate(105.25,196)" font-family="'Liberation Sans', sans-serif" stroke="#000" stroke-width="0.35"><path d="M-8.61 0.00V-10.93M-8.81 -10.43Q-9.51 -8.29 -11.24 -7.83M8.50 -5.00V-15.57M8.30 -15.07Q7.60 -13.02 5.95 -12.57" stroke-width="1.6" fill="none"/><text x="-4.17" y="0" font-size="15.5">0</text></g>
<g transform="translate(62.3,141.40) rotate(-90)" font-family="'Liberation Sans', sans-serif" stroke="#000" stroke-width="0.35"><path d="M-8.61 0.00V-10.93M-8.81 -10.43Q-9.51 -8.29 -11.24 -7.83M8.50 -5.00V-15.57M8.30 -15.07Q7.60 -13.02 5.95 -12.57" stroke-width="1.6" fill="none"/><text x="-4.17" y="0" font-size="15.5">0</text></g>
<g transform="translate(140.50,196)" font-family="'Liberation Sans', sans-serif" stroke="#000" stroke-width="0.35"><path d="M-8.61 0.00V-10.93M-8.81 -10.43Q-9.51 -8.29 -11.24 -7.83" stroke-width="1.6" fill="none"/><text x="-4.17" y="0" font-size="15.5">0</text><text x="4.45" y="-5" font-size="15">2</text></g>
<g transform="translate(62.3,105.90) rotate(-90)" font-family="'Liberation Sans', sans-serif" stroke="#000" stroke-width="0.35"><path d="M-8.61 0.00V-10.93M-8.81 -10.43Q-9.51 -8.29 -11.24 -7.83" stroke-width="1.6" fill="none"/><text x="-4.17" y="0" font-size="15.5">0</text><text x="4.45" y="-5" font-size="15">2</text></g>
<g transform="translate(175.75,196)" font-family="'Liberation Sans', sans-serif" stroke="#000" stroke-width="0.35"><path d="M-8.61 0.00V-10.93M-8.81 -10.43Q-9.51 -8.29 -11.24 -7.83" stroke-width="1.6" fill="none"/><text x="-4.17" y="0" font-size="15.5">0</text><text x="4.45" y="-5" font-size="15">3</text></g>
<g transform="translate(62.3,70.40) rotate(-90)" font-family="'Liberation Sans', sans-serif" stroke="#000" stroke-width="0.35"><path d="M-8.61 0.00V-10.93M-8.81 -10.43Q-9.51 -8.29 -11.24 -7.83" stroke-width="1.6" fill="none"/><text x="-4.17" y="0" font-size="15.5">0</text><text x="4.45" y="-5" font-size="15">3</text></g>
<g transform="translate(211.00,196)" font-family="'Liberation Sans', sans-serif" stroke="#000" stroke-width="0.35"><path d="M-8.61 0.00V-10.93M-8.81 -10.43Q-9.51 -8.29 -11.24 -7.83" stroke-width="1.6" fill="none"/><text x="-4.17" y="0" font-size="15.5">0</text><text x="4.45" y="-5" font-size="15">4</text></g>
<g transform="translate(62.3,34.90) rotate(-90)" font-family="'Liberation Sans', sans-serif" stroke="#000" stroke-width="0.35"><path d="M-8.61 0.00V-10.93M-8.81 -10.43Q-9.51 -8.29 -11.24 -7.83" stroke-width="1.6" fill="none"/><text x="-4.17" y="0" font-size="15.5">0</text><text x="4.45" y="-5" font-size="15">4</text></g>
<path d="M131 350.5h1M139 351.5h1M168 342.5h1M123 351.5h1M124 357.5h1M110 358.5h1M117 351.5h1M167 359.5h1M152 355.5h1M128 340.5h1M148 359.5h1M156 343.5h1M131 350.5h1M160 340.5h1M182 343.5h1M162 349.5h1M153 341.5h1M144 347.5h1M132 357.5h1M144 346.5h1M177 345.5h1M165 350.5h1M138 347.5h1M179 352.5h1M151 347.5h1M155 351.5h1M125 360.5h1M119 351.5h1M128 338.5h1M161 343.5h1M142 338.5h1M164 349.5h1M151 352.5h1M149 356.5h1M160 348.5h1M153 342.5h1M172 343.5h1M139 344.5h1M163 353.5h1M152 348.5h1M164 354.5h1M149 343.5h1M159 345.5h1M151 353.5h1M147 348.5h1M118 365.5h1M125 344.5h1M115 355.5h1M161 352.5h1M153 345.5h1M165 344.5h1M166 354.5h1M145 338.5h1M167 335.5h1M154 339.5h1M167 340.5h1M148 349.5h1M138 339.5h1M132 355.5h1M132 357.5h1M143 348.5h1M104 347.5h1M112 355.5h1M178 336.5h1M125 359.5h1M127 364.5h1M143 352.5h1M157 337.5h1M133 344.5h1M177 347.5h1M153 348.5h1M160 345.5h1M154 347.5h1M172 348.5h1M164 350.5h1M134 360.5h1M147 342.5h1M160 352.5h1M122 346.5h1M143 346.5h1M173 342.5h1M155 355.5h1M114 343.5h1M126 343.5h1M111 350.5h1M168 349.5h1M133 348.5h1M128 356.5h1M179 352.5h1M140 357.5h1M141 341.5h1M115 355.5h1M143 357.5h1M146 348.5h1M147 345.5h1M115 352.5h1M124 356.5h1M135 346.5h1M142 343.5h1M125 361.5h1M151 343.5h1M127 362.5h1M183 344.5h1M174 352.5h1M110 351.5h1M133 344.5h1M157 339.5h1M166 334.5h1M119 339.5h1M130 344.5h1M147 359.5h1M165 352.5h1M174 348.5h1M186 353.5h1M163 345.5h1M133 351.5h1M175 336.5h1M141 350.5h1M114 358.5h1M119 353.5h1M141 354.5h1M150 344.5h1M139 339.5h1M170 342.5h1M159 342.5h1M150 354.5h1M156 357.5h1M149 355.5h1M173 349.5h1M150 352.5h1M173 347.5h1M138 342.5h1M173 349.5h1M157 337.5h1M150 355.5h1M125 345.5h1M153 349.5h1M121 342.5h1M135 349.5h1M121 353.5h1M171 350.5h1M156 355.5h1M128 357.5h1M129 343.5h1M156 353.5h1M171 340.5h1M135 331.5h1M172 352.5h1M166 343.5h1M143 350.5h1M146 363.5h1M135 350.5h1M164 339.5h1M132 358.5h1M136 350.5h1M150 350.5h1M155 359.5h1M158 347.5h1M164 350.5h1M138 345.5h1M123 349.5h1M139 359.5h1M134 348.5h1M173 345.5h1M145 351.5h1M167 345.5h1M179 345.5h1M130 365.5h1M135 345.5h1M144 364.5h1M134 359.5h1M159 350.5h1M173 356.5h1M124 355.5h1M142 342.5h1M171 357.5h1M149 341.5h1M171 337.5h1M167 340.5h1M167 357.5h1M122 360.5h1M135 349.5h1M130 334.5h1M172 351.5h1M163 354.5h1M120 350.5h1M164 344.5h1M164 341.5h1M164 350.5h1M126 351.5h1M159 346.5h1M125 349.5h1M115 353.5h1M161 362.5h1M128 349.5h1M160 354.5h1M143 351.5h1M139 352.5h1M176 356.5h1M132 346.5h1M139 342.5h1M136 346.5h1M123 354.5h1M144 348.5h1M123 345.5h1M174 350.5h1M151 345.5h1M124 360.5h1M173 351.5h1M141 339.5h1M155 343.5h1M168 350.5h1M127 349.5h1M112 334.5h1M183 342.5h1M174 355.5h1M132 347.5h1M131 353.5h1M148 354.5h1M153 358.5h1M174 344.5h1M183 334.5h1M172 343.5h1M133 359.5h1M158 346.5h1M141 360.5h1M120 348.5h1M126 342.5h1M136 339.5h1M141 349.5h1M111 347.5h1M132 349.5h1M136 351.5h1M143 338.5h1M126 356.5h1M131 361.5h1M150 337.5h1M149 333.5h1M163 361.5h1M173 343.5h1M143 344.5h1M158 352.5h1M132 356.5h1M173 348.5h1M153 352.5h1M133 344.5h1M136 354.5h1M124 341.5h1M137 354.5h1M131 338.5h1M165 343.5h1M146 341.5h1M120 352.5h1M140 351.5h1M140 350.5h1M167 341.5h1M113 354.5h1M129 355.5h1M129 351.5h1M127 347.5h1M161 350.5h1M117 350.5h1M138 359.5h1M122 354.5h1M162 357.5h1M134 342.5h1M155 350.5h1M118 345.5h1M121 359.5h1M139 350.5h1M163 347.5h1M158 357.5h1M148 354.5h1M176 353.5h1M107 348.5h1M152 347.5h1M135 359.5h1M125 347.5h1M135 348.5h1M175 347.5h1M141 356.5h1M175 350.5h1M120 340.5h1M140 341.5h1M148 354.5h1M169 338.5h1M135 352.5h1M145 356.5h1M128 341.5h1M120 347.5h1M164 333.5h1M123 351.5h1M129 348.5h1M138 344.5h1M121 348.5h1M131 352.5h1M176 349.5h1M149 350.5h1M131 350.5h1M141 350.5h1M148 360.5h1M159 343.5h1M173 354.5h1M179 351.5h1M133 355.5h1M158 351.5h1M154 342.5h1M123 340.5h1M152 347.5h1M150 348.5h1M152 353.5h1M145 351.5h1M153 348.5h1M187 350.5h1M164 356.5h1M126 349.5h1M176 357.5h1M169 335.5h1M166 347.5h1M145 353.5h1M143 346.5h1M145 355.5h1M131 351.5h1M161 338.5h1M168 340.5h1M172 358.5h1M151 357.5h1M175 353.5h1M171 333.5h1M150 349.5h1M156 348.5h1M139 353.5h1M176 340.5h1M131 343.5h1M129 362.5h1M166 355.5h1M122 362.5h1M166 358.5h1M136 355.5h1M167 359.5h1M132 354.5h1M153 344.5h1M180 341.5h1M115 349.5h1M150 344.5h1M133 359.5h1M128 339.5h1M143 333.5h1M161 350.5h1M128 345.5h1M128 347.5h1M172 365.5h1M164 342.5h1M151 346.5h1M140 361.5h1M154 352.5h1M138 341.5h1M134 345.5h1M171 359.5h1M129 353.5h1M173 354.5h1M157 348.5h1M164 354.5h1M160 349.5h1M157 351.5h1M177 360.5h1M176 347.5h1M128 348.5h1M125 354.5h1M192 344.5h1M105 333.5h1M141 361.5h1M166 348.5h1M175 343.5h1M166 349.5h1M145 354.5h1M159 334.5h1M173 353.5h1M159 350.5h1M162 354.5h1M122 341.5h1M129 365.5h1M117 356.5h1M161 353.5h1M141 347.5h1M121 347.5h1M134 342.5h1M139 350.5h1M156 355.5h1M177 350.5h1M165 356.5h1M142 353.5h1M164 353.5h1M125 347.5h1M150 343.5h1M144 357.5h1M182 354.5h1M152 350.5h1M168 349.5h1M153 351.5h1M157 345.5h1M132 351.5h1M149 362.5h1M176 340.5h1M138 358.5h1M128 338.5h1M112 348.5h1M140 347.5h1M163 360.5h1M125 347.5h1M135 351.5h1M155 355.5h1M181 346.5h1M135 344.5h1M156 341.5h1M141 358.5h1M150 355.5h1M138 340.5h1M129 346.5h1M146 344.5h1M126 353.5h1M165 347.5h1M144 344.5h1M115 358.5h1M129 354.5h1M156 348.5h1M154 340.5h1M143 352.5h1M105 345.5h1M154 355.5h1M162 358.5h1M179 345.5h1M137 356.5h1M151 349.5h1M164 353.5h1M176 346.5h1M163 358.5h1M141 359.5h1M125 359.5h1M164 351.5h1M121 340.5h1M125 343.5h1M151 348.5h1M121 350.5h1M138 341.5h1M174 350.5h1M119 342.5h1M169 340.5h1M171 345.5h1M127 347.5h1M134 347.5h1M168 350.5h1M163 347.5h1M132 355.5h1M159 355.5h1M139 338.5h1M123 350.5h1M139 361.5h1M162 340.5h1M172 340.5h1M167 346.5h1M113 358.5h1M137 336.5h1M126 342.5h1M165 341.5h1M127 351.5h1M142 346.5h1M172 351.5h1M117 351.5h1M110 358.5h1M170 355.5h1M175 353.5h1M127 349.5h1M171 343.5h1M136 346.5h1M138 362.5h1M143 342.5h1M125 360.5h1M175 346.5h1M147 351.5h1M183 349.5h1M142 353.5h1M183 357.5h1M142 338.5h1M139 367.5h1M154 356.5h1M126 340.5h1M163 350.5h1M124 349.5h1M189 355.5h1M125 357.5h1M150 345.5h1M161 351.5h1M163 347.5h1M127 344.5h1M172 362.5h1M153 357.5h1M131 354.5h1M162 348.5h1M170 345.5h1M124 357.5h1M148 351.5h1M147 350.5h1M136 350.5h1M173 339.5h1M162 355.5h1M118 348.5h1M117 366.5h1M130 350.5h1M136 349.5h1M173 345.5h1M129 353.5h1M120 354.5h1M130 358.5h1M144 353.5h1M121 333.5h1M131 362.5h1M111 362.5h1M166 349.5h1M138 356.5h1M168 341.5h1M120 360.5h1M153 338.5h1M137 353.5h1M164 361.5h1M162 365.5h1M161 356.5h1M127 354.5h1M161 347.5h1M169 359.5h1M158 328.5h1M163 344.5h1M152 351.5h1M134 353.5h1M129 330.5h1M180 355.5h1M163 344.5h1M158 339.5h1M161 356.5h1M156 345.5h1M166 353.5h1M173 340.5h1M130 339.5h1M159 346.5h1M164 348.5h1M128 358.5h1M179 332.5h1M166 339.5h1M121 344.5h1M126 339.5h1M121 349.5h1M187 357.5h1M125 343.5h1M171 356.5h1M142 353.5h1M124 344.5h1M120 361.5h1M127 349.5h1M163 351.5h1M134 358.5h1M124 358.5h1M181 351.5h1M147 351.5h1M117 348.5h1M165 360.5h1M153 349.5h1M153 358.5h1M126 355.5h1M158 342.5h1M130 354.5h1M180 353.5h1M170 355.5h1M157 349.5h1M156 343.5h1M156 352.5h1M140 345.5h1M163 359.5h1M130 346.5h1M162 350.5h1M158 349.5h1M138 356.5h1M115 354.5h1M164 347.5h1M161 358.5h1M116 344.5h1M151 352.5h1M122 346.5h1M124 357.5h1M183 361.5h1M145 345.5h1M154 345.5h1M133 350.5h1M167 345.5h1M161 349.5h1M136 345.5h1M144 348.5h1M131 356.5h1M159 342.5h1M122 356.5h1M126 333.5h1M170 350.5h1M148 356.5h1M153 351.5h1M136 349.5h1M167 348.5h1M169 345.5h1M161 354.5h1M175 364.5h1M176 355.5h1M156 346.5h1M157 341.5h1M125 363.5h1M122 349.5h1M165 341.5h1M147 359.5h1M160 337.5h1M140 355.5h1M150 350.5h1M164 353.5h1M159 337.5h1M176 343.5h1M132 348.5h1M174 352.5h1M180 361.5h1M179 351.5h1M146 354.5h1M177 350.5h1M125 363.5h1M149 340.5h1M183 343.5h1M168 338.5h1M157 353.5h1M136 349.5h1M147 358.5h1M154 343.5h1M174 351.5h1M156 337.5h1M133 344.5h1M135 344.5h1M179 345.5h1M173 360.5h1M133 344.5h1M139 361.5h1M156 347.5h1M123 345.5h1M163 357.5h1M146 354.5h1M152 350.5h1M159 347.5h1M129 347.5h1M180 349.5h1M180 355.5h1M128 347.5h1M150 331.5h1M135 353.5h1M140 338.5h1M146 358.5h1M128 354.5h1M152 340.5h1M138 343.5h1M133 338.5h1M137 345.5h1M137 354.5h1M146 349.5h1M172 352.5h1M135 342.5h1M143 345.5h1M157 340.5h1M127 354.5h1M136 351.5h1M171 352.5h1M124 352.5h1M140 350.5h1M169 340.5h1M170 348.5h1M122 341.5h1M139 348.5h1M167 362.5h1M137 359.5h1M143 351.5h1M163 341.5h1M177 349.5h1M125 360.5h1M150 348.5h1M152 351.5h1M145 345.5h1M163 343.5h1M163 347.5h1M176 354.5h1M126 357.5h1M120 352.5h1M139 350.5h1M125 347.5h1M131 353.5h1M145 354.5h1M182 346.5h1M138 344.5h1M136 347.5h1M139 357.5h1M132 352.5h1M114 334.5h1M128 357.5h1M164 352.5h1M121 343.5h1M147 356.5h1M133 352.5h1M156 340.5h1M155 342.5h1M124 362.5h1M112 345.5h1M134 352.5h1M128 359.5h1M137 342.5h1M140 353.5h1M151 350.5h1M146 355.5h1M118 344.5h1M143 343.5h1M166 344.5h1M174 332.5h1M148 345.5h1M122 351.5h1M130 345.5h1M121 347.5h1M138 344.5h1M177 366.5h1M180 343.5h1M150 334.5h1M151 342.5h1M163 353.5h1M149 333.5h1M163 343.5h1M163 334.5h1M169 341.5h1M137 350.5h1M152 359.5h1M153 347.5h1M135 344.5h1M114 350.5h1M148 357.5h1M144 342.5h1M171 353.5h1M136 338.5h1M166 351.5h1M152 345.5h1M126 350.5h1M133 345.5h1M130 344.5h1M136 363.5h1M119 352.5h1M133 352.5h1M129 352.5h1M132 348.5h1M151 340.5h1M138 355.5h1M145 344.5h1M127 351.5h1M171 353.5h1M133 358.5h1M180 353.5h1M160 356.5h1M176 345.5h1M151 337.5h1M129 344.5h1M137 343.5h1M182 354.5h1M155 343.5h1M138 354.5h1M128 355.5h1M135 346.5h1M141 353.5h1M157 344.5h1M159 347.5h1M132 350.5h1M150 352.5h1M127 347.5h1M136 346.5h1M151 347.5h1M152 340.5h1M130 352.5h1M137 358.5h1M163 357.5h1M158 355.5h1M114 355.5h1M158 349.5h1M177 336.5h1M159 355.5h1M186 354.5h1M165 352.5h1M134 355.5h1M171 353.5h1M158 343.5h1M120 339.5h1M144 353.5h1M176 349.5h1M159 342.5h1M130 346.5h1M170 349.5h1M163 346.5h1M127 349.5h1M148 353.5h1M168 345.5h1M123 353.5h1M146 352.5h1M126 346.5h1M130 356.5h1M159 343.5h1M130 353.5h1M164 355.5h1M168 344.5h1M157 344.5h1M128 342.5h1M142 339.5h1M166 355.5h1M144 350.5h1M135 356.5h1M142 353.5h1M134 342.5h1M150 346.5h1M144 347.5h1M162 345.5h1M138 351.5h1M158 340.5h1M186 355.5h1M170 344.5h1M158 353.5h1M134 355.5h1M114 334.5h1M121 351.5h1M153 344.5h1M139 354.5h1M138 354.5h1M160 340.5h1M146 346.5h1M117 348.5h1M152 345.5h1M170 344.5h1M157 343.5h1M166 345.5h1M132 344.5h1M174 346.5h1M137 348.5h1M137 341.5h1M141 364.5h1M149 343.5h1M156 348.5h1M163 347.5h1M143 350.5h1M157 354.5h1M156 345.5h1M140 357.5h1M109 356.5h1M165 356.5h1M150 338.5h1M125 349.5h1M138 349.5h1M189 359.5h1M186 349.5h1M128 343.5h1M136 357.5h1M183 349.5h1M158 348.5h1M155 345.5h1M151 342.5h1M173 336.5h1M120 349.5h1M176 349.5h1M161 354.5h1M163 343.5h1M132 350.5h1M140 346.5h1M142 345.5h1M152 350.5h1M138 351.5h1M165 348.5h1M120 348.5h1M154 349.5h1M129 350.5h1M182 350.5h1M115 341.5h1M146 354.5h1M121 349.5h1M166 349.5h1M137 342.5h1M162 353.5h1M157 351.5h1M123 353.5h1M150 344.5h1M123 345.5h1M146 346.5h1M173 348.5h1M164 334.5h1M166 347.5h1M164 362.5h1M130 359.5h1M137 359.5h1M150 352.5h1M145 360.5h1M128 349.5h1M164 359.5h1M139 350.5h1M135 354.5h1M158 346.5h1M149 349.5h1M148 356.5h1M137 337.5h1M155 357.5h1M134 353.5h1M169 359.5h1M183 343.5h1M108 343.5h1M152 350.5h1M193 366.5h1M173 344.5h1M163 337.5h1M126 355.5h1M155 346.5h1M146 343.5h1M151 349.5h1M148 358.5h1M153 351.5h1M186 354.5h1M170 346.5h1M147 362.5h1M142 346.5h1M173 349.5h1M131 360.5h1M185 356.5h1M123 346.5h1M137 341.5h1M124 344.5h1M150 329.5h1M148 348.5h1M147 358.5h1M122 349.5h1M148 355.5h1M127 366.5h1M137 342.5h1M151 356.5h1M166 356.5h1M148 337.5h1M168 354.5h1M186 355.5h1M152 344.5h1M137 337.5h1M143 363.5h1M177 357.5h1M129 354.5h1M170 344.5h1M143 348.5h1M149 342.5h1M155 360.5h1M150 350.5h1M125 339.5h1M133 362.5h1M117 342.5h1M174 355.5h1M158 348.5h1M176 357.5h1M130 345.5h1M153 344.5h1M152 351.5h1M131 338.5h1M151 357.5h1M146 343.5h1M149 358.5h1M133 343.5h1M134 344.5h1M106 355.5h1M157 338.5h1M135 350.5h1M115 359.5h1M180 352.5h1M167 343.5h1M150 349.5h1M151 343.5h1M120 339.5h1M174 344.5h1M122 346.5h1M164 348.5h1M166 346.5h1M126 339.5h1M119 354.5h1M142 351.5h1M121 344.5h1M167 356.5h1M177 342.5h1M163 349.5h1M137 346.5h1M137 354.5h1M120 351.5h1M147 341.5h1M130 357.5h1M147 342.5h1M168 341.5h1M182 349.5h1M155 363.5h1M184 357.5h1M153 347.5h1M148 342.5h1M123 359.5h1M139 347.5h1M169 348.5h1M157 360.5h1M172 348.5h1M143 355.5h1M163 360.5h1M162 337.5h1M163 355.5h1M166 359.5h1M157 359.5h1M117 336.5h1M160 342.5h1M123 345.5h1M149 355.5h1M143 347.5h1M163 349.5h1M119 344.5h1M171 360.5h1M166 344.5h1M150 342.5h1M154 356.5h1M141 356.5h1M163 350.5h1M172 359.5h1M143 351.5h1M116 351.5h1M187 340.5h1M160 356.5h1M125 352.5h1M165 340.5h1M138 361.5h1M140 342.5h1M130 353.5h1M161 345.5h1M138 349.5h1M127 345.5h1M139 354.5h1M155 365.5h1M132 351.5h1M146 354.5h1M185 349.5h1M153 338.5h1M184 346.5h1M167 346.5h1M168 345.5h1M159 351.5h1M169 339.5h1M186 345.5h1M120 349.5h1M147 341.5h1M155 352.5h1M130 353.5h1M136 355.5h1M130 359.5h1M125 358.5h1M139 341.5h1M128 352.5h1M168 350.5h1M119 344.5h1M181 350.5h1M160 356.5h1M142 355.5h1M140 353.5h1M138 342.5h1M114 353.5h1M169 353.5h1M147 346.5h1M113 349.5h1M170 349.5h1M172 348.5h1M162 337.5h1M144 352.5h1M148 353.5h1M181 337.5h1M125 356.5h1M147 362.5h1M126 343.5h1M177 353.5h1M112 350.5h1M177 349.5h1M127 358.5h1M178 346.5h1M139 358.5h1M123 344.5h1M143 341.5h1M183 354.5h1M141 342.5h1M166 348.5h1M170 336.5h1M150 349.5h1M148 362.5h1M155 362.5h1M171 343.5h1M118 353.5h1M132 347.5h1M161 357.5h1M129 354.5h1M138 365.5h1M161 347.5h1M152 344.5h1M154 355.5h1M168 346.5h1M120 355.5h1M169 347.5h1M151 353.5h1M166 356.5h1M165 346.5h1M160 363.5h1M160 337.5h1M157 361.5h1M127 364.5h1M165 348.5h1M120 357.5h1M156 345.5h1M173 360.5h1M182 339.5h1M135 341.5h1M172 357.5h1M146 336.5h1M132 353.5h1M134 350.5h1M151 354.5h1M150 348.5h1M178 347.5h1M160 351.5h1M120 348.5h1M173 349.5h1M155 346.5h1M180 359.5h1M128 353.5h1M156 358.5h1M154 350.5h1M137 350.5h1M118 351.5h1M173 355.5h1M110 337.5h1M143 357.5h1M151 346.5h1M153 353.5h1M162 339.5h1M124 341.5h1M165 347.5h1M149 345.5h1M157 356.5h1M181 357.5h1M128 344.5h1M146 350.5h1M117 361.5h1M140 351.5h1M148 359.5h1M167 360.5h1M137 350.5h1M166 349.5h1M166 352.5h1M141 353.5h1M177 357.5h1M143 351.5h1M171 351.5h1M173 353.5h1M132 333.5h1M169 352.5h1M160 349.5h1M149 355.5h1M153 351.5h1M160 349.5h1M173 346.5h1M175 342.5h1M146 346.5h1M125 348.5h1M135 357.5h1M139 362.5h1M123 358.5h1M146 345.5h1M122 345.5h1M137 350.5h1M146 345.5h1M158 356.5h1M142 357.5h1M127 341.5h1M155 342.5h1M176 344.5h1M149 342.5h1M116 350.5h1M155 366.5h1M133 351.5h1M160 342.5h1M171 351.5h1M156 345.5h1M115 345.5h1M136 356.5h1M127 346.5h1M163 349.5h1M120 360.5h1M141 342.5h1M162 357.5h1M173 346.5h1M138 346.5h1M126 355.5h1M159 356.5h1M143 346.5h1M150 348.5h1M116 341.5h1M133 348.5h1M160 346.5h1M161 348.5h1M158 343.5h1M140 356.5h1M123 363.5h1M136 346.5h1M175 351.5h1M127 354.5h1M153 338.5h1M146 359.5h1M161 351.5h1M133 343.5h1M141 351.5h1M135 352.5h1M129 347.5h1M164 352.5h1M171 361.5h1M134 359.5h1M130 345.5h1M141 345.5h1M147 358.5h1M135 348.5h1M154 345.5h1M147 345.5h1M152 339.5h1M180 343.5h1M172 350.5h1M137 351.5h1M137 345.5h1M154 357.5h1M134 361.5h1M120 344.5h1M164 341.5h1M155 345.5h1M133 347.5h1M123 360.5h1M161 359.5h1M109 354.5h1M124 338.5h1M159 351.5h1M142 348.5h1M178 355.5h1M137 340.5h1M124 363.5h1M142 338.5h1M173 349.5h1M149 368.5h1M123 349.5h1M133 345.5h1M165 345.5h1M158 346.5h1M141 351.5h1M113 351.5h1M124 348.5h1M113 354.5h1M172 337.5h1M169 358.5h1M147 348.5h1M155 351.5h1M127 360.5h1M125 339.5h1M149 347.5h1M163 354.5h1M159 355.5h1M120 351.5h1M172 338.5h1M137 348.5h1M158 356.5h1M178 348.5h1M136 354.5h1M144 346.5h1M145 346.5h1M175 344.5h1M170 347.5h1M152 348.5h1M168 358.5h1M157 347.5h1M121 341.5h1M133 359.5h1M163 343.5h1M160 353.5h1M151 354.5h1M126 353.5h1M112 344.5h1M178 349.5h1M136 348.5h1M165 356.5h1M185 338.5h1M184 356.5h1M175 340.5h1M103 340.5h1M163 344.5h1M184 358.5h1M121 349.5h1M153 354.5h1M148 338.5h1M179 347.5h1M168 346.5h1M153 347.5h1M149 347.5h1M132 342.5h1M137 334.5h1M139 343.5h1M160 340.5h1M142 344.5h1M140 346.5h1M160 357.5h1M157 351.5h1M158 353.5h1M150 345.5h1M131 364.5h1M152 352.5h1M131 346.5h1M129 351.5h1M181 349.5h1M171 344.5h1M126 339.5h1M118 337.5h1M132 344.5h1M141 341.5h1M174 351.5h1M113 355.5h1M160 344.5h1M167 337.5h1M183 344.5h1M170 362.5h1M160 341.5h1M158 335.5h1M120 343.5h1M138 350.5h1M172 354.5h1M107 356.5h1M130 338.5h1M153 350.5h1M162 350.5h1M138 349.5h1M149 349.5h1M177 345.5h1M165 351.5h1M117 345.5h1M158 352.5h1M126 353.5h1M174 360.5h1M169 347.5h1M173 339.5h1M141 344.5h1M135 340.5h1M131 350.5h1M135 353.5h1M154 353.5h1M174 356.5h1M158 342.5h1M177 339.5h1M132 353.5h1M139 345.5h1M138 358.5h1M145 346.5h1M112 342.5h1M122 354.5h1M117 339.5h1M148 351.5h1M148 346.5h1M162 336.5h1M156 359.5h1M135 345.5h1M117 350.5h1M151 338.5h1M166 348.5h1M126 349.5h1M156 345.5h1M158 336.5h1M170 352.5h1M136 355.5h1M148 354.5h1M183 342.5h1M170 361.5h1M115 356.5h1M150 353.5h1M139 355.5h1M138 350.5h1M173 354.5h1M164 363.5h1M169 333.5h1M163 341.5h1M182 350.5h1M152 353.5h1M170 354.5h1M154 362.5h1M169 357.5h1M112 347.5h1M175 347.5h1M132 339.5h1M164 349.5h1M143 353.5h1M154 342.5h1M139 345.5h1M163 358.5h1M153 354.5h1M129 343.5h1M144 354.5h1M161 348.5h1M157 356.5h1M175 341.5h1M133 334.5h1M166 363.5h1M148 356.5h1M158 344.5h1M173 347.5h1M164 349.5h1M129 358.5h1M127 361.5h1M169 352.5h1M144 342.5h1M157 342.5h1M160 332.5h1M156 361.5h1M180 347.5h1M170 347.5h1M121 335.5h1M167 353.5h1M172 339.5h1M127 360.5h1M135 341.5h1M144 355.5h1M151 356.5h1M174 346.5h1M122 352.5h1M128 347.5h1M152 350.5h1M133 355.5h1M147 343.5h1M134 351.5h1M176 354.5h1M145 354.5h1M121 363.5h1M170 358.5h1M142 347.5h1M133 348.5h1M130 350.5h1M126 340.5h1M154 349.5h1M125 349.5h1M119 345.5h1M159 347.5h1M126 341.5h1M166 353.5h1M151 348.5h1M141 349.5h1M131 351.5h1M132 349.5h1M152 342.5h1M168 338.5h1M167 349.5h1M161 349.5h1M132 347.5h1M148 341.5h1M134 344.5h1M141 337.5h1M124 335.5h1M182 340.5h1M141 353.5h1M121 351.5h1M141 351.5h1M147 352.5h1M169 341.5h1M136 353.5h1M125 345.5h1M141 351.5h1M179 355.5h1M168 340.5h1M175 358.5h1M142 339.5h1M121 358.5h1M155 345.5h1M134 346.5h1M123 347.5h1M144 349.5h1M160 353.5h1M171 350.5h1M172 339.5h1M161 342.5h1M148 332.5h1M158 340.5h1M165 344.5h1M159 347.5h1M149 349.5h1M143 338.5h1M133 351.5h1M160 350.5h1M150 353.5h1M161 344.5h1M127 325.5h1M116 350.5h1M175 360.5h1M124 354.5h1M181 342.5h1M112 351.5h1M133 352.5h1M134 344.5h1M136 349.5h1M171 355.5h1M108 346.5h1M146 356.5h1M159 350.5h1M150 336.5h1M140 365.5h1M158 337.5h1M120 362.5h1M121 347.5h1M174 364.5h1M146 351.5h1M130 354.5h1M131 353.5h1M139 355.5h1M172 338.5h1M130 342.5h1M145 360.5h1M145 361.5h1M142 350.5h1M187 359.5h1M151 335.5h1M124 339.5h1M162 345.5h1M124 361.5h1M133 354.5h1M161 342.5h1M120 356.5h1M131 344.5h1M147 349.5h1M153 342.5h1M162 349.5h1M130 349.5h1M121 358.5h1M105 350.5h1M131 355.5h1M182 344.5h1M151 359.5h1M162 343.5h1M161 342.5h1M148 344.5h1M133 360.5h1M156 358.5h1M114 348.5h1M129 348.5h1M110 352.5h1M157 351.5h1M160 357.5h1M135 356.5h1M126 357.5h1M140 353.5h1M144 350.5h1M130 352.5h1M150 356.5h1M165 342.5h1M150 348.5h1M142 356.5h1M161 330.5h1M147 368.5h1M146 345.5h1M118 347.5h1M167 353.5h1M145 357.5h1M163 350.5h1M167 342.5h1M142 343.5h1M169 346.5h1M160 348.5h1M167 349.5h1M177 343.5h1M113 348.5h1M179 348.5h1M136 340.5h1M138 353.5h1M149 347.5h1M139 350.5h1M149 355.5h1M132 339.5h1M128 356.5h1M147 352.5h1M125 355.5h1M177 346.5h1M111 345.5h1M137 338.5h1M176 338.5h1M125 338.5h1M165 345.5h1M129 342.5h1M171 351.5h1M157 356.5h1M171 341.5h1M160 355.5h1M150 344.5h1M153 338.5h1M157 349.5h1M161 339.5h1M145 348.5h1M151 349.5h1M135 344.5h1M171 336.5h1M157 358.5h1M122 347.5h1M140 354.5h1M140 347.5h1M119 345.5h1M151 359.5h1M148 356.5h1M160 342.5h1M131 346.5h1M122 353.5h1M178 348.5h1M141 342.5h1M123 343.5h1M160 364.5h1M123 353.5h1M175 337.5h1M135 352.5h1M177 352.5h1M172 348.5h1M140 347.5h1M147 347.5h1M119 346.5h1M161 354.5h1M140 346.5h1M134 343.5h1M141 348.5h1M162 350.5h1M175 354.5h1M171 348.5h1M131 358.5h1M146 352.5h1M180 350.5h1M140 365.5h1M123 348.5h1M128 360.5h1M160 356.5h1M129 356.5h1M175 352.5h1M175 351.5h1M175 346.5h1M133 357.5h1M160 353.5h1M127 347.5h1M133 354.5h1M163 355.5h1M142 348.5h1M164 345.5h1M139 346.5h1M145 359.5h1M155 349.5h1M105 350.5h1M119 338.5h1M155 350.5h1M139 352.5h1M175 340.5h1M134 355.5h1M149 341.5h1M125 341.5h1M173 350.5h1M181 348.5h1M152 345.5h1M125 334.5h1M156 348.5h1M116 352.5h1M119 344.5h1M148 348.5h1M111 355.5h1M113 349.5h1M164 346.5h1M156 341.5h1M136 345.5h1M176 345.5h1M127 353.5h1M135 342.5h1M146 354.5h1M157 354.5h1M167 352.5h1M169 355.5h1M115 348.5h1M134 344.5h1M128 349.5h1M162 352.5h1M167 347.5h1M165 353.5h1M172 342.5h1M154 339.5h1M170 351.5h1M155 351.5h1M116 342.5h1M132 333.5h1M123 350.5h1M157 339.5h1M146 354.5h1M140 347.5h1M136 337.5h1M116 352.5h1M134 354.5h1M133 349.5h1M145 349.5h1M146 350.5h1M129 354.5h1M152 353.5h1M135 347.5h1M146 350.5h1M148 340.5h1M157 348.5h1M126 356.5h1M129 347.5h1M152 346.5h1M149 330.5h1M127 341.5h1M140 353.5h1M136 351.5h1M160 347.5h1M154 357.5h1M156 346.5h1M150 355.5h1M146 348.5h1M138 349.5h1M142 347.5h1M132 344.5h1M127 355.5h1M122 367.5h1M158 338.5h1M135 352.5h1M130 349.5h1M139 356.5h1M139 358.5h1M137 342.5h1M147 348.5h1M137 337.5h1M137 363.5h1M136 364.5h1M139 351.5h1M155 341.5h1M136 351.5h1M147 356.5h1M131 340.5h1M129 348.5h1M165 352.5h1M160 358.5h1M131 340.5h1M148 349.5h1M139 342.5h1M160 356.5h1M136 343.5h1M137 343.5h1M130 340.5h1M148 347.5h1M144 338.5h1M128 347.5h1M132 354.5h1M156 346.5h1M143 344.5h1M135 341.5h1M136 345.5h1M142 343.5h1M131 344.5h1M149 348.5h1M135 355.5h1M136 347.5h1M135 359.5h1M147 346.5h1M136 357.5h1M134 352.5h1M133 348.5h1M119 349.5h1M136 344.5h1M130 350.5h1M136 362.5h1M163 351.5h1M144 349.5h1M138 350.5h1M119 347.5h1M134 351.5h1M151 349.5h1M160 341.5h1M147 347.5h1M130 335.5h1M158 350.5h1M141 358.5h1M153 347.5h1M144 351.5h1M139 351.5h1M136 352.5h1M135 337.5h1M165 362.5h1M139 353.5h1M133 345.5h1M105 344.5h1M119 348.5h1M135 354.5h1M139 357.5h1M158 361.5h1M122 351.5h1M139 341.5h1M137 357.5h1M133 355.5h1M135 346.5h1M136 354.5h1M146 356.5h1M138 348.5h1M132 343.5h1M137 338.5h1M137 353.5h1M127 349.5h1M146 359.5h1M119 358.5h1M139 350.5h1M129 353.5h1M138 347.5h1M126 361.5h1M134 339.5h1M133 352.5h1M140 361.5h1M146 355.5h1M119 351.5h1M137 343.5h1M145 353.5h1M107 345.5h1M117 357.5h1M100 357.5h1M101 340.5h1M109 353.5h1M76 356.5h1M96 348.5h1M111 342.5h1M102 344.5h1M90 357.5h1M112 349.5h1M108 344.5h1M106 353.5h1M107 351.5h1M108 343.5h1M98 336.5h1M100 340.5h1M88 344.5h1M87 358.5h1M84 353.5h1M100 355.5h1M121 344.5h1M89 351.5h1M97 349.5h1M99 362.5h1M118 342.5h1M105 342.5h1M103 356.5h1M88 346.5h1M91 354.5h1M88 346.5h1M96 349.5h1M95 360.5h1M104 352.5h1M91 345.5h1M111 337.5h1M107 349.5h1M109 357.5h1M99 350.5h1M83 347.5h1M109 352.5h1M111 358.5h1M109 343.5h1M94 350.5h1M95 360.5h1M86 360.5h1M102 364.5h1M97 332.5h1M106 350.5h1M107 344.5h1M97 358.5h1M98 358.5h1M108 352.5h1M106 358.5h1M102 362.5h1M111 351.5h1M99 366.5h1M106 347.5h1M113 354.5h1M101 348.5h1M106 344.5h1M102 347.5h1M106 340.5h1M109 348.5h1M98 354.5h1M107 358.5h1M89 351.5h1M94 353.5h1M103 352.5h1M102 348.5h1M99 357.5h1M105 350.5h1M94 358.5h1M100 336.5h1M100 344.5h1M95 357.5h1M110 348.5h1M89 342.5h1M99 342.5h1M111 351.5h1M92 341.5h1M120 348.5h1M85 354.5h1M105 365.5h1M93 357.5h1M95 335.5h1M102 338.5h1M102 350.5h1M99 350.5h1M114 343.5h1M107 343.5h1M89 356.5h1M86 356.5h1M110 358.5h1M91 355.5h1M87 350.5h1M106 341.5h1M101 346.5h1M110 355.5h1M94 348.5h1M101 352.5h1M99 355.5h1M90 349.5h1M95 357.5h1M107 349.5h1M111 355.5h1M111 336.5h1M95 355.5h1M92 356.5h1M97 349.5h1M95 347.5h1M90 353.5h1M108 341.5h1M116 339.5h1M110 363.5h1M93 355.5h1M99 348.5h1M113 355.5h1M74 361.5h1M103 346.5h1M89 344.5h1M101 340.5h1M75 350.5h1M98 350.5h1M95 357.5h1M96 361.5h1M77 346.5h1M94 359.5h1M111 353.5h1M98 346.5h1M96 350.5h1M91 343.5h1M100 338.5h1M105 341.5h1M95 355.5h1M108 344.5h1M97 346.5h1M97 347.5h1M92 345.5h1M95 347.5h1M96 350.5h1M100 349.5h1M112 338.5h1M104 360.5h1M99 359.5h1M112 351.5h1M97 348.5h1M95 346.5h1M103 360.5h1M106 355.5h1M107 366.5h1M116 354.5h1M97 342.5h1M92 344.5h1M84 340.5h1M114 345.5h1M86 347.5h1M102 354.5h1M91 354.5h1M93 351.5h1M109 351.5h1M105 350.5h1M95 349.5h1M98 347.5h1M117 364.5h1M102 365.5h1M98 361.5h1M104 338.5h1M93 349.5h1M90 350.5h1M112 359.5h1M94 362.5h1M102 348.5h1M95 346.5h1M83 349.5h1M97 363.5h1M84 359.5h1M104 344.5h1M102 342.5h1M99 358.5h1M110 348.5h1M87 355.5h1M106 344.5h1M102 359.5h1M99 339.5h1M106 342.5h1M89 354.5h1M102 349.5h1M97 364.5h1M102 350.5h1M93 344.5h1M122 350.5h1M99 344.5h1M120 349.5h1M99 353.5h1M120 344.5h1M109 350.5h1M96 354.5h1M111 337.5h1M93 341.5h1M84 367.5h1M98 347.5h1M109 354.5h1M93 341.5h1M74 346.5h1M102 360.5h1M94 338.5h1M72 355.5h1M85 352.5h1M100 350.5h1M104 345.5h1M103 361.5h1M91 344.5h1M95 345.5h1M119 345.5h1M106 343.5h1M107 343.5h1M93 351.5h1M95 352.5h1M102 350.5h1M97 355.5h1M91 353.5h1M91 357.5h1M106 344.5h1M95 356.5h1M79 354.5h1M100 354.5h1M95 344.5h1M105 355.5h1M116 341.5h1M121 350.5h1M95 351.5h1M99 357.5h1M108 356.5h1M79 346.5h1M99 347.5h1M94 367.5h1M116 346.5h1M99 348.5h1M114 347.5h1M98 350.5h1M87 348.5h1M99 346.5h1M94 355.5h1M83 353.5h1M97 354.5h1M111 344.5h1M101 358.5h1M102 322.5h1M97 352.5h1M107 358.5h1M105 361.5h1M100 349.5h1M102 343.5h1M100 352.5h1M108 352.5h1M107 354.5h1M101 353.5h1M100 354.5h1M111 359.5h1M101 358.5h1M119 343.5h1M117 354.5h1M101 343.5h1M96 333.5h1M108 345.5h1M99 340.5h1M100 361.5h1M100 359.5h1M100 347.5h1M98 352.5h1M83 356.5h1M115 359.5h1M80 352.5h1M113 344.5h1M100 350.5h1M154 328.5h1M167 330.5h1M125 332.5h1M147 335.5h1M164 329.5h1M146 326.5h1M157 333.5h1M176 327.5h1M208 325.5h1M169 329.5h1M147 339.5h1M156 333.5h1M163 326.5h1M159 326.5h1M154 323.5h1M186 321.5h1M145 338.5h1M194 323.5h1M164 342.5h1M204 321.5h1M187 339.5h1M165 334.5h1M164 322.5h1M157 335.5h1M134 328.5h1M140 332.5h1M146 335.5h1M142 338.5h1M189 328.5h1M151 319.5h1M162 325.5h1M165 333.5h1M142 333.5h1M188 334.5h1M160 333.5h1M165 330.5h1M142 328.5h1M147 326.5h1M168 330.5h1M167 327.5h1M184 324.5h1M185 326.5h1M161 327.5h1M156 332.5h1M166 327.5h1M143 326.5h1M165 330.5h1M160 329.5h1M192 337.5h1M177 337.5h1M174 332.5h1M131 323.5h1M128 334.5h1M139 331.5h1M133 328.5h1M186 322.5h1M186 333.5h1M155 328.5h1M161 332.5h1M111 333.5h1M170 330.5h1M125 337.5h1M179 322.5h1M138 330.5h1M173 328.5h1M165 334.5h1M139 338.5h1M132 327.5h1M154 332.5h1M137 330.5h1M182 336.5h1M191 327.5h1M103 329.5h1M166 323.5h1M146 289.5h1M160 335.5h1M168 271.5h1M190 323.5h1M159 262.5h1M202 285.5h1M208 265.5h1M198 246.5h1M186 262.5h1M195 293.5h1M185 298.5h1M194 249.5h1M189 317.5h1M172 294.5h1M171 312.5h1M206 278.5h1M209 289.5h1M182 308.5h1M189 239.5h1M191 274.5h1M201 282.5h1M202 268.5h1M148 238.5h1M151 325.5h1M182 308.5h1M177 275.5h1M197 267.5h1M167 280.5h1M182 301.5h1M183 262.5h1M158 274.5h1M187 367.5h1M169 281.5h1M194 297.5h1M206 267.5h1M181 262.5h1M172 235.5h1M195 279.5h1M209 286.5h1M166 266.5h1M130 296.5h1M167 326.5h1M122 289.5h1M167 256.5h1M119 321.5h1M164 287.5h1M152 274.5h1M196 289.5h1M154 252.5h1M145 287.5h1M145 233.5h1M124 262.5h1M207 283.5h1M136 248.5h1M205 260.5h1M141 296.5h1M119 242.5h1M175 238.5h1M138 233.5h1M191 256.5h1M158 289.5h1M151 266.5h1M134 252.5h1M109 282.5h1M78 264.5h1M88 287.5h1M101 318.5h1M97 293.5h1M82 271.5h1M107 315.5h1M72 324.5h1M106 314.5h1M74 326.5h1M83 238.5h1M90 293.5h1" stroke="#111" stroke-width="1" fill="none"/>
<rect x="69.5" y="227.4" width="141.1" height="141.99999999999997" fill="none" stroke="#222" stroke-width="1.3"/>
<line x1="110.8" y1="227.4" x2="110.8" y2="369.4" stroke="#222" stroke-width="1.2"/>
<line x1="69.5" y1="337.8" x2="210.6" y2="337.8" stroke="#222" stroke-width="1.2"/>
<path d="M69.5 369.4v3M69.5 369.4h-3M80.1 369.4v2M69.5 358.7h-2M86.3 369.4v2M69.5 352.5h-2M90.7 369.4v2M69.5 348.0h-2M94.2 369.4v2M69.5 344.6h-2M96.9 369.4v2M69.5 341.8h-2M99.3 369.4v2M69.5 339.4h-2M101.4 369.4v2M69.5 337.3h-2M103.2 369.4v2M69.5 335.5h-2M104.8 369.4v3M69.5 333.9h-3M115.4 369.4v2M69.5 323.2h-2M121.6 369.4v2M69.5 317.0h-2M126.0 369.4v2M69.5 312.5h-2M129.4 369.4v2M69.5 309.1h-2M132.2 369.4v2M69.5 306.3h-2M134.6 369.4v2M69.5 303.9h-2M136.6 369.4v2M69.5 301.8h-2M138.4 369.4v2M69.5 300.0h-2M140.1 369.4v3M69.5 298.4h-3M150.7 369.4v2M69.5 287.7h-2M156.9 369.4v2M69.5 281.5h-2M161.3 369.4v2M69.5 277.0h-2M164.7 369.4v2M69.5 273.6h-2M167.5 369.4v2M69.5 270.8h-2M169.9 369.4v2M69.5 268.4h-2M171.9 369.4v2M69.5 266.3h-2M173.7 369.4v2M69.5 264.5h-2M175.3 369.4v3M69.5 262.9h-3M185.9 369.4v2M69.5 252.2h-2M192.2 369.4v2M69.5 246.0h-2M196.6 369.4v2M69.5 241.5h-2M200.0 369.4v2M69.5 238.1h-2M202.8 369.4v2M69.5 235.3h-2M205.1 369.4v2M69.5 232.9h-2M207.2 369.4v2M69.5 230.8h-2M209.0 369.4v2M69.5 229.0h-2M210.6 369.4v3M69.5 227.4h-3" stroke="#222" stroke-width="0.9" fill="none"/>
<g transform="translate(69.50,388.79999999999995)" font-family="'Liberation Sans', sans-serif" stroke="#000" stroke-width="0.35"><path d="M-8.61 0.00V-10.93M-8.81 -10.43Q-9.51 -8.29 -11.24 -7.83" stroke-width="1.6" fill="none"/><text x="-4.17" y="0" font-size="15.5">0</text><text x="4.45" y="-5" font-size="15">0</text></g>
<g transform="translate(61.8,370.30) rotate(-90)" font-family="'Liberation Sans', sans-serif" stroke="#000" stroke-width="0.35"><path d="M-8.61 0.00V-10.93M-8.81 -10.43Q-9.51 -8.29 -11.24 -7.83" stroke-width="1.6" fill="none"/><text x="-4.17" y="0" font-size="15.5">0</text><text x="4.45" y="-5" font-size="15">0</text></g>
<g transform="translate(104.78,388.79999999999995)" font-family="'Liberation Sans', sans-serif" stroke="#000" stroke-width="0.35"><path d="M-8.61 0.00V-10.93M-8.81 -10.43Q-9.51 -8.29 -11.24 -7.83M8.50 -5.00V-15.57M8.30 -15.07Q7.60 -13.02 5.95 -12.57" stroke-width="1.6" fill="none"/><text x="-4.17" y="0" font-size="15.5">0</text></g>
<g transform="translate(61.8,334.80) rotate(-90)" font-family="'Liberation Sans', sans-serif" stroke="#000" stroke-width="0.35"><path d="M-8.61 0.00V-10.93M-8.81 -10.43Q-9.51 -8.29 -11.24 -7.83M8.50 -5.00V-15.57M8.30 -15.07Q7.60 -13.02 5.95 -12.57" stroke-width="1.6" fill="none"/><text x="-4.17" y="0" font-size="15.5">0</text></g>
<g transform="translate(140.05,388.79999999999995)" font-family="'Liberation Sans', sans-serif" stroke="#000" stroke-width="0.35"><path d="M-8.61 0.00V-10.93M-8.81 -10.43Q-9.51 -8.29 -11.24 -7.83" stroke-width="1.6" fill="none"/><text x="-4.17" y="0" font-size="15.5">0</text><text x="4.45" y="-5" font-size="15">2</text></g>
<g transform="translate(61.8,299.30) rotate(-90)" font-family="'Liberation Sans', sans-serif" stroke="#000" stroke-width="0.35"><path d="M-8.61 0.00V-10.93M-8.81 -10.43Q-9.51 -8.29 -11.24 -7.83" stroke-width="1.6" fill="none"/><text x="-4.17" y="0" font-size="15.5">0</text><text x="4.45" y="-5" font-size="15">2</text></g>
<g transform="translate(175.32,388.79999999999995)" font-family="'Liberation Sans', sans-serif" stroke="#000" stroke-width="0.35"><path d="M-8.61 0.00V-10.93M-8.81 -10.43Q-9.51 -8.29 -11.24 -7.83" stroke-width="1.6" fill="none"/><text x="-4.17" y="0" font-size="15.5">0</text><text x="4.45" y="-5" font-size="15">3</text></g>
<g transform="translate(61.8,263.80) rotate(-90)" font-family="'Liberation Sans', sans-serif" stroke="#000" stroke-width="0.35"><path d="M-8.61 0.00V-10.93M-8.81 -10.43Q-9.51 -8.29 -11.24 -7.83" stroke-width="1.6" fill="none"/><text x="-4.17" y="0" font-size="15.5">0</text><text x="4.45" y="-5" font-size="15">3</text></g>
<g transform="translate(210.60,388.79999999999995)" font-family="'Liberation Sans', sans-serif" stroke="#000" stroke-width="0.35"><path d="M-8.61 0.00V-10.93M-8.81 -10.43Q-9.51 -8.29 -11.24 -7.83" stroke-width="1.6" fill="none"/><text x="-4.17" y="0" font-size="15.5">0</text><text x="4.45" y="-5" font-size="15">4</text></g>
<g transform="translate(61.8,228.30) rotate(-90)" font-family="'Liberation Sans', sans-serif" stroke="#000" stroke-width="0.35"><path d="M-8.61 0.00V-10.93M-8.81 -10.43Q-9.51 -8.29 -11.24 -7.83" stroke-width="1.6" fill="none"/><text x="-4.17" y="0" font-size="15.5">0</text><text x="4.45" y="-5" font-size="15">4</text></g>
<path d="M153 547.5h1M140 544.5h1M117 544.5h1M134 506.5h1M150 545.5h1M142 548.5h1M131 545.5h1M154 544.5h1M161 543.5h1M147 525.5h1M155 547.5h1M144 536.5h1M175 544.5h1M143 531.5h1M133 544.5h1M160 535.5h1M148 534.5h1M105 530.5h1M132 559.5h1M151 534.5h1M140 553.5h1M147 542.5h1M167 533.5h1M149 529.5h1M144 551.5h1M155 535.5h1M143 550.5h1M157 536.5h1M122 541.5h1M132 533.5h1M116 551.5h1M157 529.5h1M115 547.5h1M151 548.5h1M170 554.5h1M152 552.5h1M167 541.5h1M141 560.5h1M171 533.5h1M158 529.5h1M152 548.5h1M135 550.5h1M167 557.5h1M138 545.5h1M150 535.5h1M128 560.5h1M146 528.5h1M158 539.5h1M142 538.5h1M143 533.5h1M135 540.5h1M145 535.5h1M150 514.5h1M169 525.5h1M116 545.5h1M138 536.5h1M113 529.5h1M162 555.5h1M132 550.5h1M147 534.5h1M177 543.5h1M158 540.5h1M173 533.5h1M167 553.5h1M144 550.5h1M169 534.5h1M142 546.5h1M154 549.5h1M133 536.5h1M183 544.5h1M138 554.5h1M127 536.5h1M159 541.5h1M151 540.5h1M149 557.5h1M140 540.5h1M135 546.5h1M134 545.5h1M159 546.5h1M144 533.5h1M156 523.5h1M116 532.5h1M139 540.5h1M159 530.5h1M162 540.5h1M170 544.5h1M144 533.5h1M138 518.5h1M162 518.5h1M146 545.5h1M149 533.5h1M138 537.5h1M146 524.5h1M137 530.5h1M137 551.5h1M136 554.5h1M149 530.5h1M149 535.5h1M171 538.5h1M149 544.5h1M123 533.5h1M121 534.5h1M146 529.5h1M146 550.5h1M152 547.5h1M144 541.5h1M145 543.5h1M134 543.5h1M115 543.5h1M129 529.5h1M149 543.5h1M131 536.5h1M140 560.5h1M143 543.5h1M148 554.5h1M156 533.5h1M130 548.5h1M145 547.5h1M172 539.5h1M132 550.5h1M146 517.5h1M144 540.5h1M154 542.5h1M180 547.5h1M158 540.5h1M156 554.5h1M173 543.5h1M147 551.5h1M136 535.5h1M161 533.5h1M164 534.5h1M147 532.5h1M155 542.5h1M157 528.5h1M150 545.5h1M157 521.5h1M143 542.5h1M145 528.5h1M119 537.5h1M164 550.5h1M169 536.5h1M138 539.5h1M124 547.5h1M174 551.5h1M174 542.5h1M161 541.5h1M113 547.5h1M149 553.5h1M127 537.5h1M137 559.5h1M136 532.5h1M140 531.5h1M169 541.5h1M130 555.5h1M146 532.5h1M151 535.5h1M140 538.5h1M140 545.5h1M127 558.5h1M139 553.5h1M132 534.5h1M145 510.5h1M160 548.5h1M158 537.5h1M136 530.5h1M158 548.5h1M169 548.5h1M129 525.5h1M131 539.5h1M168 540.5h1M145 540.5h1M159 550.5h1M156 535.5h1M181 545.5h1M133 533.5h1M141 538.5h1M149 529.5h1M137 542.5h1M109 551.5h1M169 548.5h1M136 554.5h1M155 539.5h1M129 534.5h1M150 533.5h1M137 523.5h1M153 542.5h1M139 544.5h1M159 544.5h1M163 535.5h1M166 533.5h1M151 533.5h1M149 535.5h1M140 545.5h1M133 527.5h1M149 546.5h1M127 543.5h1M168 536.5h1M136 526.5h1M168 531.5h1M158 529.5h1M155 533.5h1M135 525.5h1M150 520.5h1M116 534.5h1M161 545.5h1M153 533.5h1M155 547.5h1M144 530.5h1M165 540.5h1M148 539.5h1M162 552.5h1M127 540.5h1M130 547.5h1M148 536.5h1M131 533.5h1M120 535.5h1M123 555.5h1M156 546.5h1M135 546.5h1M153 542.5h1M146 530.5h1M136 546.5h1M139 529.5h1M161 528.5h1M146 543.5h1M159 545.5h1M159 534.5h1M136 542.5h1M145 523.5h1M185 542.5h1M150 541.5h1M131 533.5h1M123 544.5h1M149 555.5h1M159 530.5h1M126 556.5h1M155 542.5h1M129 544.5h1M145 543.5h1M159 537.5h1M173 527.5h1M157 530.5h1M166 534.5h1M128 532.5h1M148 524.5h1M148 536.5h1M151 523.5h1M149 544.5h1M151 546.5h1M149 541.5h1M151 521.5h1M141 541.5h1M144 534.5h1M129 549.5h1M146 535.5h1M146 547.5h1M134 536.5h1M168 538.5h1M149 537.5h1M133 545.5h1M143 538.5h1M146 554.5h1M163 523.5h1M143 537.5h1M151 533.5h1M125 524.5h1M140 528.5h1M148 545.5h1M144 532.5h1M134 545.5h1M139 559.5h1M166 535.5h1M146 529.5h1M132 542.5h1M172 531.5h1M131 530.5h1M140 544.5h1M156 551.5h1M150 533.5h1M153 537.5h1M138 536.5h1M140 527.5h1M185 549.5h1M114 546.5h1M152 530.5h1M163 550.5h1M135 528.5h1M130 530.5h1M143 533.5h1M157 533.5h1M159 552.5h1M151 541.5h1M151 528.5h1M143 549.5h1M136 545.5h1M158 550.5h1M164 538.5h1M143 555.5h1M150 534.5h1M120 529.5h1M171 538.5h1M154 516.5h1M165 551.5h1M146 543.5h1M158 548.5h1M149 543.5h1M159 544.5h1M135 536.5h1M167 545.5h1M167 538.5h1M139 525.5h1M134 530.5h1M139 536.5h1M128 550.5h1M162 539.5h1M147 546.5h1M153 556.5h1M130 543.5h1M134 549.5h1M145 543.5h1M143 524.5h1M162 528.5h1M146 547.5h1M125 545.5h1M116 547.5h1M158 524.5h1M161 550.5h1M154 550.5h1M159 542.5h1M159 514.5h1M160 516.5h1M149 545.5h1M166 523.5h1M138 540.5h1M125 543.5h1M160 542.5h1M138 556.5h1M152 533.5h1M155 539.5h1M128 523.5h1M146 543.5h1M146 543.5h1M152 527.5h1M154 561.5h1M142 539.5h1M149 555.5h1M122 535.5h1M152 541.5h1M121 522.5h1M104 545.5h1M178 543.5h1M150 554.5h1M167 555.5h1M150 540.5h1M131 532.5h1M126 549.5h1M146 546.5h1M153 531.5h1M142 547.5h1M139 545.5h1M159 544.5h1M153 542.5h1M134 532.5h1M131 541.5h1M169 553.5h1M146 558.5h1M139 557.5h1M141 547.5h1M149 524.5h1M151 534.5h1M146 544.5h1M134 560.5h1M148 524.5h1M154 547.5h1M171 546.5h1M137 554.5h1M132 544.5h1M176 543.5h1M131 548.5h1M143 559.5h1M148 534.5h1M151 535.5h1M127 559.5h1M166 530.5h1M124 539.5h1M147 535.5h1M150 547.5h1M149 540.5h1M146 561.5h1M102 550.5h1M122 539.5h1M157 538.5h1M141 540.5h1M164 549.5h1M160 534.5h1M150 526.5h1M136 531.5h1M133 549.5h1M131 537.5h1M133 541.5h1M130 530.5h1M174 539.5h1M171 535.5h1M179 540.5h1M123 525.5h1M145 552.5h1M137 559.5h1M144 553.5h1M169 534.5h1M122 557.5h1M145 542.5h1M135 547.5h1M154 526.5h1M169 541.5h1M159 549.5h1M153 551.5h1M157 554.5h1M132 541.5h1M155 557.5h1M139 540.5h1M150 550.5h1M148 544.5h1M167 535.5h1M148 529.5h1M149 532.5h1M139 556.5h1M158 540.5h1M157 556.5h1M149 548.5h1M158 547.5h1M138 547.5h1M165 541.5h1M135 552.5h1M131 526.5h1M120 550.5h1M156 529.5h1M144 533.5h1M158 531.5h1M147 524.5h1M150 525.5h1M131 531.5h1M128 557.5h1M154 550.5h1M154 552.5h1M171 541.5h1M130 539.5h1M160 549.5h1M155 519.5h1M160 541.5h1M139 535.5h1M137 552.5h1M173 539.5h1M133 553.5h1M155 549.5h1M139 542.5h1M149 540.5h1M149 527.5h1M173 558.5h1M186 539.5h1M166 548.5h1M152 538.5h1M149 531.5h1M157 551.5h1M146 533.5h1M158 544.5h1M144 542.5h1M131 554.5h1M171 545.5h1M149 548.5h1M167 522.5h1M144 535.5h1M136 522.5h1M161 549.5h1M166 537.5h1M154 537.5h1M138 546.5h1M157 541.5h1M134 519.5h1M145 546.5h1M137 533.5h1M162 538.5h1M160 556.5h1M142 546.5h1M148 535.5h1M117 507.5h1M135 537.5h1M160 532.5h1M131 533.5h1M134 552.5h1M112 528.5h1M155 550.5h1M145 542.5h1M131 544.5h1M151 535.5h1M166 541.5h1M140 537.5h1M138 554.5h1M164 545.5h1M149 534.5h1M130 534.5h1M154 542.5h1M153 549.5h1M114 544.5h1M133 532.5h1M151 547.5h1M148 527.5h1M164 537.5h1M153 544.5h1M145 535.5h1M145 538.5h1M130 559.5h1M122 546.5h1M166 528.5h1M132 558.5h1M159 536.5h1M127 530.5h1M149 527.5h1M152 532.5h1M152 551.5h1M143 548.5h1M159 552.5h1M124 534.5h1M164 526.5h1M163 557.5h1M136 547.5h1M147 538.5h1M133 540.5h1M164 541.5h1M162 530.5h1M153 537.5h1M141 528.5h1M140 549.5h1M157 549.5h1M153 530.5h1M148 540.5h1M160 533.5h1M124 555.5h1M166 537.5h1M116 555.5h1M147 551.5h1M154 540.5h1M154 553.5h1M156 520.5h1M135 527.5h1M161 534.5h1M146 553.5h1M134 533.5h1M161 528.5h1M161 531.5h1M140 554.5h1M150 536.5h1M148 557.5h1M139 557.5h1M149 552.5h1M144 538.5h1M149 526.5h1M161 526.5h1M168 538.5h1M155 540.5h1M128 547.5h1M154 547.5h1M175 557.5h1M141 529.5h1M138 553.5h1M127 549.5h1M169 537.5h1M155 546.5h1M160 540.5h1M133 546.5h1M150 528.5h1M146 536.5h1M177 549.5h1M129 530.5h1M154 542.5h1M151 544.5h1M155 544.5h1M159 553.5h1M135 540.5h1M140 533.5h1M146 547.5h1M150 546.5h1M124 553.5h1M135 546.5h1M149 531.5h1M155 522.5h1M166 543.5h1M172 528.5h1M140 537.5h1M163 538.5h1M162 537.5h1M158 544.5h1M153 545.5h1M157 559.5h1M152 527.5h1M156 541.5h1M155 550.5h1M135 545.5h1M145 530.5h1M134 530.5h1M124 549.5h1M147 528.5h1M153 541.5h1M131 552.5h1M137 540.5h1M157 556.5h1M181 541.5h1M142 534.5h1M149 516.5h1M163 545.5h1M141 546.5h1M142 534.5h1M138 524.5h1M146 542.5h1M133 534.5h1M147 541.5h1M153 547.5h1M145 555.5h1M119 527.5h1M133 548.5h1M168 530.5h1M139 546.5h1M146 551.5h1M155 539.5h1M149 533.5h1M158 521.5h1M170 559.5h1M160 553.5h1M126 533.5h1M137 544.5h1M163 548.5h1M134 537.5h1M165 535.5h1M124 548.5h1M145 520.5h1M160 532.5h1M165 544.5h1M154 536.5h1M133 541.5h1M155 552.5h1M159 533.5h1M162 549.5h1M149 525.5h1M159 549.5h1M150 526.5h1M146 537.5h1M185 541.5h1M146 552.5h1M137 525.5h1M145 553.5h1M133 541.5h1M158 549.5h1M158 546.5h1M152 535.5h1M156 546.5h1M144 536.5h1M128 539.5h1M154 530.5h1M146 543.5h1M149 549.5h1M144 537.5h1M151 552.5h1M158 547.5h1M150 553.5h1M145 537.5h1M161 556.5h1M159 543.5h1M135 536.5h1M142 545.5h1M136 539.5h1M147 543.5h1M132 547.5h1M152 528.5h1M146 526.5h1M146 553.5h1M156 552.5h1M152 530.5h1M142 542.5h1M183 539.5h1M150 533.5h1M145 542.5h1M167 553.5h1M130 536.5h1M147 555.5h1M149 554.5h1M136 557.5h1M134 537.5h1M148 538.5h1M160 542.5h1M137 544.5h1M171 541.5h1M151 542.5h1M150 537.5h1M146 543.5h1M135 550.5h1M152 534.5h1M160 541.5h1M134 535.5h1M155 557.5h1M158 535.5h1M171 553.5h1M127 533.5h1M120 549.5h1M130 552.5h1M147 542.5h1M186 535.5h1M179 543.5h1M192 534.5h1M187 556.5h1M177 552.5h1M178 537.5h1M158 538.5h1M188 534.5h1M181 549.5h1M164 551.5h1M175 527.5h1M179 540.5h1M158 535.5h1M170 560.5h1M150 543.5h1M161 522.5h1M173 550.5h1M166 523.5h1M160 531.5h1M179 524.5h1M180 544.5h1M180 539.5h1M186 540.5h1M199 540.5h1M179 546.5h1M175 539.5h1M175 530.5h1M166 548.5h1M188 542.5h1M164 527.5h1M168 531.5h1M184 545.5h1M194 548.5h1M170 538.5h1M173 531.5h1M187 540.5h1M192 546.5h1M170 521.5h1M175 528.5h1M168 542.5h1M172 537.5h1M169 539.5h1M182 526.5h1M175 532.5h1M186 551.5h1M152 522.5h1M191 539.5h1M178 549.5h1M155 536.5h1M154 529.5h1M164 536.5h1M199 519.5h1M170 528.5h1M160 545.5h1M178 524.5h1M166 533.5h1M175 553.5h1M172 523.5h1M172 534.5h1M184 547.5h1M190 523.5h1M195 525.5h1M167 545.5h1M163 549.5h1M163 529.5h1M193 546.5h1M184 553.5h1M169 550.5h1M152 539.5h1M174 544.5h1M166 550.5h1M171 546.5h1M176 552.5h1M176 534.5h1M190 528.5h1M176 547.5h1M149 539.5h1M192 522.5h1M139 547.5h1M168 550.5h1M176 539.5h1M166 540.5h1M152 550.5h1M161 530.5h1M151 542.5h1M183 540.5h1M184 546.5h1M179 530.5h1M203 532.5h1M192 539.5h1M174 523.5h1M181 524.5h1M183 517.5h1M205 548.5h1M198 535.5h1M180 541.5h1M183 551.5h1M164 547.5h1M177 529.5h1M183 535.5h1M165 558.5h1M179 538.5h1M178 524.5h1M171 541.5h1M142 533.5h1M173 547.5h1M179 550.5h1M166 518.5h1M183 529.5h1M183 532.5h1M176 515.5h1M172 531.5h1M170 543.5h1M141 560.5h1M194 523.5h1M167 540.5h1M181 550.5h1M197 550.5h1M194 539.5h1M195 550.5h1M178 539.5h1M176 517.5h1M204 525.5h1M168 530.5h1M191 533.5h1M181 534.5h1M161 537.5h1M195 550.5h1M174 530.5h1M155 541.5h1M150 546.5h1M154 549.5h1M167 542.5h1M194 542.5h1M158 546.5h1M177 550.5h1M167 544.5h1M180 547.5h1M179 536.5h1M171 526.5h1M173 552.5h1M177 538.5h1M172 537.5h1M204 537.5h1M179 542.5h1M191 540.5h1M162 552.5h1M180 532.5h1M152 547.5h1M182 529.5h1M155 544.5h1M184 545.5h1M167 545.5h1M155 539.5h1M177 554.5h1M174 528.5h1M176 529.5h1M166 525.5h1M162 519.5h1M167 547.5h1M161 544.5h1M166 547.5h1M169 532.5h1M185 543.5h1M189 550.5h1M159 552.5h1M181 556.5h1M154 526.5h1M196 525.5h1M153 539.5h1M184 539.5h1M151 543.5h1M150 553.5h1M202 532.5h1M153 556.5h1M179 546.5h1M181 546.5h1M170 537.5h1M159 560.5h1M157 547.5h1M170 540.5h1M172 534.5h1M161 525.5h1M200 536.5h1M175 526.5h1M181 538.5h1M171 547.5h1M157 533.5h1M189 551.5h1M172 537.5h1M167 548.5h1M168 561.5h1M172 543.5h1M201 530.5h1M168 540.5h1M196 523.5h1M175 541.5h1M153 543.5h1M170 547.5h1M196 560.5h1M171 535.5h1M179 522.5h1M154 548.5h1M174 538.5h1M168 548.5h1M187 551.5h1M165 524.5h1M196 530.5h1M161 549.5h1M161 552.5h1M167 526.5h1M176 548.5h1M162 552.5h1M189 561.5h1M176 555.5h1M158 556.5h1M186 541.5h1M158 534.5h1M180 543.5h1M145 524.5h1M180 536.5h1M165 533.5h1M165 539.5h1M170 527.5h1M166 544.5h1M187 538.5h1M172 543.5h1M185 547.5h1M179 518.5h1M178 548.5h1M156 539.5h1M156 557.5h1M162 552.5h1M184 556.5h1M193 548.5h1M174 533.5h1M175 533.5h1M169 558.5h1M164 530.5h1M169 547.5h1M157 543.5h1M170 557.5h1M176 552.5h1M175 545.5h1M185 531.5h1M172 541.5h1M178 526.5h1M186 539.5h1M176 523.5h1M150 534.5h1M160 526.5h1M166 541.5h1M158 540.5h1M183 522.5h1M156 544.5h1M173 534.5h1M137 522.5h1M175 555.5h1M189 546.5h1M159 534.5h1M178 544.5h1M172 554.5h1M154 530.5h1M191 535.5h1M178 544.5h1M171 549.5h1M197 546.5h1M178 539.5h1M154 519.5h1M168 548.5h1M175 549.5h1M173 550.5h1M181 539.5h1M155 528.5h1M176 551.5h1M178 535.5h1M198 549.5h1M185 540.5h1M181 542.5h1M172 534.5h1M173 544.5h1M174 533.5h1M170 527.5h1M173 538.5h1M184 533.5h1M172 538.5h1M163 546.5h1M175 530.5h1M168 530.5h1M200 516.5h1M174 528.5h1M182 531.5h1M185 533.5h1M185 537.5h1M170 536.5h1M180 526.5h1M179 531.5h1M193 549.5h1M170 533.5h1M174 550.5h1M187 540.5h1M160 519.5h1M156 539.5h1M165 538.5h1M181 548.5h1M172 540.5h1M160 527.5h1M176 542.5h1M165 543.5h1M176 544.5h1M145 542.5h1M149 540.5h1M165 533.5h1M179 525.5h1M186 526.5h1M181 528.5h1M180 545.5h1M157 552.5h1M176 547.5h1M183 537.5h1M164 539.5h1M143 536.5h1M180 559.5h1M185 540.5h1M176 554.5h1M182 533.5h1M173 549.5h1M184 526.5h1M179 528.5h1M166 537.5h1M179 537.5h1M166 530.5h1M159 535.5h1M184 544.5h1M170 549.5h1M176 546.5h1M197 532.5h1M171 554.5h1M202 525.5h1M181 536.5h1M177 543.5h1M200 536.5h1M155 545.5h1M140 531.5h1M185 520.5h1M203 547.5h1M180 528.5h1M185 544.5h1M185 533.5h1M193 539.5h1M171 544.5h1M169 547.5h1M170 533.5h1M180 525.5h1M189 532.5h1M159 533.5h1M190 552.5h1M159 549.5h1M160 542.5h1M161 535.5h1M158 540.5h1M167 549.5h1M188 539.5h1M181 542.5h1M183 532.5h1M172 558.5h1M185 532.5h1M176 536.5h1M175 537.5h1M160 539.5h1M178 545.5h1M161 519.5h1M182 542.5h1M155 542.5h1M191 561.5h1M164 519.5h1M183 534.5h1M190 540.5h1M171 531.5h1M185 550.5h1M194 557.5h1M164 506.5h1M167 532.5h1M160 542.5h1M164 543.5h1M183 520.5h1M186 522.5h1M167 523.5h1M181 524.5h1M168 541.5h1M192 532.5h1M175 546.5h1M172 534.5h1M183 545.5h1M169 534.5h1M159 529.5h1M173 541.5h1M141 556.5h1M159 546.5h1M158 535.5h1M175 542.5h1M146 525.5h1M169 533.5h1M164 540.5h1M182 537.5h1M186 541.5h1M200 560.5h1M166 529.5h1M170 544.5h1M149 527.5h1M147 534.5h1M175 530.5h1M192 547.5h1M162 543.5h1M150 531.5h1M167 538.5h1M158 540.5h1M164 541.5h1M158 529.5h1M181 543.5h1M161 513.5h1M172 554.5h1M164 536.5h1M169 527.5h1M187 548.5h1M173 533.5h1M167 545.5h1M184 535.5h1M154 546.5h1M167 541.5h1M163 526.5h1M159 551.5h1M159 533.5h1M155 549.5h1M187 535.5h1M173 537.5h1M163 537.5h1M170 513.5h1M180 543.5h1M172 539.5h1M154 549.5h1M193 555.5h1M165 529.5h1M193 551.5h1M192 544.5h1M195 534.5h1M169 532.5h1M180 548.5h1M202 543.5h1M188 545.5h1M148 552.5h1M171 532.5h1M196 539.5h1M169 553.5h1M172 536.5h1M143 526.5h1M188 515.5h1M161 539.5h1M173 554.5h1M161 550.5h1M180 535.5h1M191 544.5h1M154 535.5h1M178 533.5h1M189 546.5h1M183 550.5h1M175 532.5h1M171 537.5h1M154 547.5h1M175 553.5h1M161 514.5h1M176 549.5h1M159 525.5h1M135 544.5h1M180 546.5h1M179 552.5h1M171 540.5h1M172 539.5h1M172 529.5h1M168 547.5h1M168 544.5h1M151 561.5h1M153 538.5h1M162 545.5h1M168 548.5h1M190 549.5h1M188 535.5h1M190 549.5h1M183 560.5h1M169 529.5h1M180 560.5h1M180 536.5h1M170 549.5h1M167 547.5h1M184 536.5h1M185 534.5h1M154 540.5h1M200 553.5h1M175 549.5h1M159 539.5h1M183 533.5h1M177 531.5h1M149 532.5h1M177 543.5h1M171 550.5h1M187 549.5h1M151 541.5h1M163 542.5h1M191 542.5h1M173 517.5h1M152 537.5h1M187 525.5h1M201 548.5h1M179 542.5h1M165 549.5h1M152 537.5h1M181 552.5h1M181 547.5h1M186 533.5h1M167 545.5h1M154 535.5h1M170 535.5h1M174 556.5h1M150 536.5h1M149 538.5h1M184 554.5h1M181 540.5h1M179 547.5h1M172 536.5h1M197 532.5h1M179 554.5h1M177 547.5h1M171 537.5h1M185 534.5h1M175 541.5h1M191 549.5h1M173 525.5h1M170 531.5h1M184 519.5h1M188 558.5h1M172 537.5h1M184 536.5h1M198 528.5h1M156 547.5h1M144 522.5h1M170 542.5h1M150 545.5h1M177 545.5h1M166 547.5h1M198 547.5h1M151 547.5h1M166 542.5h1M167 553.5h1M168 537.5h1M151 520.5h1M194 561.5h1M165 531.5h1M189 522.5h1M145 553.5h1M163 536.5h1M156 537.5h1M177 534.5h1M153 539.5h1M172 546.5h1M189 544.5h1M191 548.5h1M194 523.5h1M160 537.5h1M176 551.5h1M182 534.5h1M160 540.5h1M184 542.5h1M162 523.5h1M158 537.5h1M187 532.5h1M147 544.5h1M170 542.5h1M181 534.5h1M174 537.5h1M186 526.5h1M147 516.5h1M165 531.5h1M150 545.5h1M156 528.5h1M185 540.5h1M170 535.5h1M160 546.5h1M162 531.5h1M173 553.5h1M177 534.5h1M192 546.5h1M178 517.5h1M168 544.5h1M180 545.5h1M173 545.5h1M162 530.5h1M168 551.5h1M169 541.5h1M177 530.5h1M197 553.5h1M169 559.5h1M176 534.5h1M164 550.5h1M159 556.5h1M181 519.5h1M157 522.5h1M171 555.5h1M180 532.5h1M177 543.5h1M195 543.5h1M181 533.5h1M160 560.5h1M148 545.5h1M177 560.5h1M162 524.5h1M147 535.5h1M177 532.5h1M152 537.5h1M153 526.5h1M160 536.5h1M161 539.5h1M151 537.5h1M180 541.5h1M194 537.5h1M182 535.5h1M197 548.5h1M168 543.5h1M180 538.5h1M183 537.5h1M165 541.5h1M191 546.5h1M167 537.5h1M169 556.5h1M169 525.5h1M186 527.5h1M165 542.5h1M187 524.5h1M173 550.5h1M146 525.5h1M152 535.5h1M185 504.5h1M175 541.5h1M179 534.5h1M191 532.5h1M177 547.5h1M192 554.5h1M176 548.5h1M161 521.5h1M175 541.5h1M183 548.5h1M168 546.5h1M200 536.5h1M182 527.5h1M170 541.5h1M150 534.5h1M177 544.5h1M190 559.5h1M179 555.5h1M157 542.5h1M191 553.5h1M159 553.5h1M201 534.5h1M179 517.5h1M166 553.5h1M201 555.5h1M177 545.5h1M167 539.5h1M171 547.5h1M156 547.5h1M158 550.5h1M175 541.5h1M180 542.5h1M200 548.5h1M159 528.5h1M163 538.5h1M186 541.5h1M168 529.5h1M177 545.5h1M156 544.5h1M150 549.5h1M158 536.5h1M183 547.5h1M167 552.5h1M153 544.5h1M181 535.5h1M181 543.5h1M135 529.5h1M191 530.5h1M185 528.5h1M194 531.5h1M182 541.5h1M168 552.5h1M181 543.5h1M156 548.5h1M156 522.5h1M170 538.5h1M156 551.5h1M188 542.5h1M176 519.5h1M202 532.5h1M180 537.5h1M169 517.5h1M156 540.5h1M146 553.5h1M179 534.5h1M178 543.5h1M163 545.5h1M168 527.5h1M193 535.5h1M165 550.5h1M177 542.5h1M148 524.5h1M173 543.5h1M161 549.5h1M185 550.5h1M174 532.5h1M199 533.5h1M173 544.5h1M185 528.5h1M167 533.5h1M171 557.5h1M159 531.5h1M193 532.5h1M170 547.5h1M180 536.5h1M150 532.5h1M163 532.5h1M180 531.5h1M188 532.5h1M158 551.5h1M187 534.5h1M185 515.5h1M185 542.5h1M159 528.5h1M189 534.5h1M186 542.5h1M173 551.5h1M177 530.5h1M160 535.5h1M166 528.5h1M179 528.5h1M165 542.5h1M171 552.5h1M171 522.5h1M180 523.5h1M187 526.5h1M175 531.5h1M201 523.5h1M178 547.5h1M160 537.5h1M179 560.5h1M176 536.5h1M177 545.5h1M205 530.5h1M154 547.5h1M184 534.5h1M175 540.5h1M170 544.5h1M159 533.5h1M134 548.5h1M190 548.5h1M156 519.5h1M187 541.5h1M164 542.5h1M168 543.5h1M162 534.5h1M165 560.5h1M154 540.5h1M193 535.5h1M166 546.5h1M179 525.5h1M163 536.5h1M163 537.5h1M156 560.5h1M173 541.5h1M182 548.5h1M191 539.5h1M193 544.5h1M193 541.5h1M174 530.5h1M147 552.5h1M197 557.5h1M162 513.5h1M194 525.5h1M172 531.5h1M164 508.5h1M176 519.5h1M177 517.5h1M173 523.5h1M154 511.5h1M151 508.5h1M205 502.5h1M208 530.5h1M174 528.5h1M158 538.5h1M151 509.5h1M182 505.5h1M189 510.5h1M158 520.5h1M183 505.5h1M165 524.5h1M164 501.5h1M180 522.5h1M158 514.5h1M144 521.5h1M162 525.5h1M174 514.5h1M183 527.5h1M144 506.5h1M203 529.5h1M170 506.5h1M173 544.5h1M188 520.5h1M183 529.5h1M186 507.5h1M160 513.5h1M161 524.5h1M157 523.5h1M160 505.5h1M168 530.5h1M194 512.5h1M188 519.5h1M183 519.5h1M156 517.5h1M174 516.5h1M185 537.5h1M176 527.5h1M167 513.5h1M173 525.5h1M184 518.5h1M187 504.5h1M166 530.5h1M173 509.5h1M177 530.5h1M144 528.5h1M157 511.5h1M173 508.5h1M171 499.5h1M172 512.5h1M166 513.5h1M190 509.5h1M193 524.5h1M180 499.5h1M176 519.5h1M169 523.5h1M175 502.5h1M180 518.5h1M160 530.5h1M174 523.5h1M175 522.5h1M174 502.5h1M160 512.5h1M171 510.5h1M161 513.5h1M156 537.5h1M151 528.5h1M154 521.5h1M189 530.5h1M179 516.5h1M160 528.5h1M178 513.5h1M166 520.5h1M171 532.5h1M173 515.5h1M199 532.5h1M157 517.5h1M162 523.5h1M171 521.5h1M171 513.5h1M145 512.5h1M135 500.5h1M186 525.5h1M188 520.5h1M178 510.5h1M177 518.5h1M181 520.5h1M165 528.5h1M143 501.5h1M184 533.5h1M178 516.5h1M136 527.5h1M170 500.5h1M189 505.5h1M177 507.5h1M153 511.5h1M183 531.5h1M176 502.5h1M202 503.5h1M160 519.5h1M164 505.5h1M158 529.5h1M146 516.5h1M179 524.5h1M160 520.5h1M193 532.5h1M171 516.5h1M178 504.5h1M185 515.5h1M195 506.5h1M177 515.5h1M153 516.5h1M160 530.5h1M168 536.5h1M158 523.5h1M177 521.5h1M178 501.5h1M185 530.5h1M143 528.5h1M157 539.5h1M144 536.5h1M162 503.5h1M198 529.5h1M164 533.5h1M145 519.5h1M171 526.5h1M180 522.5h1M187 524.5h1M184 521.5h1M172 512.5h1M149 527.5h1M169 522.5h1M174 528.5h1M149 520.5h1M174 528.5h1M189 512.5h1M183 511.5h1M156 496.5h1M159 515.5h1M182 515.5h1M174 527.5h1M165 518.5h1M192 525.5h1M182 513.5h1M173 524.5h1M170 536.5h1M174 514.5h1M164 512.5h1M177 525.5h1M186 523.5h1M160 524.5h1M176 505.5h1M174 522.5h1M203 506.5h1M168 519.5h1M148 517.5h1M200 530.5h1M150 516.5h1M134 503.5h1M148 525.5h1M170 505.5h1M178 538.5h1M145 516.5h1M138 521.5h1M158 510.5h1M190 545.5h1M178 511.5h1M159 525.5h1M152 522.5h1M177 504.5h1M194 522.5h1M158 508.5h1M127 533.5h1M181 495.5h1M158 518.5h1M153 519.5h1M169 527.5h1M177 520.5h1M179 521.5h1M152 517.5h1M184 527.5h1M192 514.5h1M165 518.5h1M164 528.5h1M186 509.5h1M164 520.5h1M168 511.5h1M194 525.5h1M176 518.5h1M180 503.5h1M157 540.5h1M169 535.5h1M198 526.5h1M167 516.5h1M175 523.5h1M171 508.5h1M167 498.5h1M177 543.5h1M186 537.5h1M177 494.5h1M189 530.5h1M159 518.5h1M195 526.5h1M189 515.5h1M170 520.5h1M198 534.5h1M154 508.5h1M187 532.5h1M157 530.5h1M180 525.5h1M194 510.5h1M176 516.5h1M180 509.5h1M172 515.5h1M184 519.5h1M187 519.5h1M159 516.5h1M198 502.5h1M146 515.5h1M164 522.5h1M166 521.5h1M163 521.5h1M175 531.5h1M152 530.5h1M153 512.5h1M154 519.5h1M172 511.5h1M172 507.5h1M170 516.5h1M183 534.5h1M177 502.5h1M173 521.5h1M201 517.5h1M191 543.5h1M173 524.5h1M177 506.5h1M169 521.5h1M126 510.5h1M192 517.5h1M164 514.5h1M188 511.5h1M204 524.5h1M150 513.5h1M191 523.5h1M171 525.5h1M151 526.5h1M138 515.5h1M179 509.5h1M158 525.5h1M145 534.5h1M185 488.5h1M154 522.5h1M186 526.5h1M180 522.5h1M166 509.5h1M167 532.5h1M184 518.5h1M162 527.5h1M180 526.5h1M173 508.5h1M169 507.5h1M149 512.5h1M180 498.5h1M171 509.5h1M169 530.5h1M157 526.5h1M184 527.5h1M172 509.5h1M191 508.5h1M195 530.5h1M163 515.5h1M189 513.5h1M159 520.5h1M145 510.5h1M143 516.5h1M188 509.5h1M146 516.5h1M166 521.5h1M197 515.5h1M149 530.5h1M182 516.5h1M153 536.5h1M162 523.5h1M184 525.5h1M182 505.5h1M146 525.5h1M196 523.5h1M171 508.5h1M159 523.5h1M145 513.5h1M163 522.5h1M130 508.5h1M182 527.5h1M190 545.5h1M169 537.5h1M151 527.5h1M183 510.5h1M176 522.5h1M204 527.5h1M175 500.5h1M151 528.5h1M188 514.5h1M149 519.5h1M201 522.5h1M183 518.5h1M159 502.5h1M185 506.5h1M168 518.5h1M174 514.5h1M164 524.5h1M191 531.5h1M163 523.5h1M162 532.5h1M158 511.5h1M164 527.5h1M196 533.5h1M186 515.5h1M148 523.5h1M164 505.5h1M184 522.5h1M151 537.5h1M167 534.5h1M167 521.5h1M176 509.5h1M172 514.5h1M167 508.5h1M183 502.5h1M192 527.5h1M147 512.5h1M188 526.5h1M194 518.5h1M168 515.5h1M147 537.5h1M164 532.5h1M169 519.5h1M129 528.5h1M178 544.5h1M164 534.5h1M138 508.5h1M186 524.5h1M161 505.5h1M188 520.5h1M183 519.5h1M164 513.5h1M162 513.5h1M165 525.5h1M160 515.5h1M184 515.5h1M155 513.5h1M155 532.5h1M166 511.5h1M180 514.5h1M191 510.5h1M164 511.5h1M165 515.5h1M179 520.5h1M146 521.5h1M165 520.5h1M163 531.5h1M144 512.5h1M182 515.5h1M169 498.5h1M180 519.5h1M183 520.5h1M181 516.5h1M179 518.5h1M163 513.5h1M188 528.5h1M162 530.5h1M184 521.5h1M184 527.5h1M183 525.5h1M163 513.5h1M164 525.5h1M185 519.5h1M190 492.5h1M162 522.5h1M147 531.5h1M180 515.5h1M175 514.5h1M157 536.5h1M188 516.5h1M188 519.5h1M183 524.5h1M171 520.5h1M177 504.5h1M181 549.5h1M169 518.5h1M183 517.5h1M160 527.5h1M165 526.5h1M193 512.5h1M172 508.5h1M205 521.5h1M170 522.5h1M152 525.5h1M156 513.5h1M178 509.5h1M159 508.5h1M156 520.5h1M191 505.5h1M188 496.5h1M187 521.5h1M168 526.5h1M175 526.5h1M161 529.5h1M145 492.5h1M185 540.5h1M178 524.5h1M138 521.5h1M174 512.5h1M188 527.5h1M170 511.5h1M180 514.5h1M173 505.5h1M151 534.5h1M199 514.5h1M189 516.5h1M166 523.5h1M174 523.5h1M170 519.5h1M184 510.5h1M197 525.5h1M171 508.5h1M177 543.5h1M178 518.5h1M165 522.5h1M161 505.5h1M183 515.5h1M190 508.5h1M159 528.5h1M157 510.5h1M172 505.5h1M181 519.5h1M153 520.5h1M208 524.5h1M160 519.5h1M194 518.5h1M156 524.5h1M171 516.5h1M189 491.5h1M194 510.5h1M173 526.5h1M182 504.5h1M186 518.5h1M183 519.5h1M170 520.5h1M174 518.5h1M189 517.5h1M171 506.5h1M183 506.5h1M161 504.5h1M172 528.5h1M170 530.5h1M157 522.5h1M187 531.5h1M177 520.5h1M196 516.5h1M181 503.5h1M155 521.5h1M149 526.5h1M177 520.5h1M178 522.5h1M161 519.5h1M158 530.5h1M147 519.5h1M178 531.5h1M164 542.5h1M152 518.5h1M151 514.5h1M164 515.5h1M162 533.5h1M170 511.5h1M162 515.5h1M159 522.5h1M189 519.5h1M156 513.5h1M171 524.5h1M181 549.5h1M179 499.5h1M175 538.5h1M191 493.5h1M179 530.5h1M160 520.5h1M173 507.5h1M179 542.5h1M166 520.5h1M199 525.5h1M149 522.5h1M175 538.5h1M187 520.5h1M183 512.5h1M179 504.5h1M196 523.5h1M170 508.5h1M173 525.5h1M172 527.5h1M163 554.5h1M173 499.5h1M182 511.5h1M174 526.5h1M179 518.5h1M169 516.5h1M162 517.5h1M181 508.5h1M173 510.5h1M174 542.5h1M141 520.5h1M154 512.5h1M151 523.5h1M163 526.5h1M162 519.5h1M173 524.5h1M174 513.5h1M168 525.5h1M161 523.5h1M163 517.5h1M172 512.5h1M180 505.5h1M193 528.5h1M206 527.5h1M173 527.5h1M145 536.5h1M202 503.5h1M156 529.5h1M195 528.5h1M179 497.5h1M184 502.5h1M175 535.5h1M159 536.5h1M177 532.5h1M174 523.5h1M161 513.5h1M164 527.5h1M187 518.5h1M149 506.5h1M149 516.5h1M180 521.5h1M158 522.5h1M166 530.5h1M172 472.5h1M199 502.5h1M159 502.5h1M180 489.5h1M209 488.5h1M199 499.5h1M200 471.5h1M176 490.5h1M185 492.5h1M203 469.5h1M195 522.5h1M181 480.5h1M185 507.5h1M198 522.5h1M179 505.5h1M188 491.5h1M192 513.5h1M202 480.5h1M179 482.5h1M175 524.5h1M174 456.5h1M178 497.5h1M156 471.5h1M189 453.5h1M180 474.5h1M174 450.5h1M182 472.5h1M179 512.5h1M177 474.5h1M180 495.5h1M165 504.5h1M167 486.5h1M190 477.5h1M194 463.5h1M186 493.5h1M186 510.5h1M199 497.5h1M183 501.5h1M189 502.5h1M167 475.5h1M187 450.5h1M168 515.5h1M153 523.5h1M151 490.5h1M158 480.5h1M204 495.5h1M180 495.5h1M176 464.5h1M169 477.5h1M182 495.5h1M170 488.5h1M189 483.5h1M181 476.5h1M190 506.5h1M166 471.5h1M178 532.5h1M192 468.5h1M199 511.5h1M193 505.5h1M193 496.5h1M177 478.5h1M171 475.5h1M175 496.5h1M193 505.5h1M180 470.5h1M186 507.5h1M189 483.5h1M177 489.5h1M171 462.5h1M155 492.5h1M173 496.5h1M188 495.5h1M185 501.5h1M173 496.5h1M185 525.5h1M166 477.5h1M154 501.5h1M164 496.5h1M177 482.5h1M167 478.5h1M177 523.5h1M204 501.5h1M198 486.5h1M174 480.5h1M175 519.5h1M180 478.5h1M183 484.5h1M183 516.5h1M178 505.5h1M151 464.5h1M183 495.5h1M180 469.5h1M190 506.5h1M154 479.5h1M155 489.5h1M165 540.5h1M149 508.5h1M161 454.5h1M189 482.5h1M174 447.5h1M164 458.5h1M174 490.5h1M184 508.5h1M164 475.5h1M188 504.5h1M188 477.5h1M167 494.5h1M179 480.5h1M170 461.5h1M199 472.5h1M207 450.5h1M163 508.5h1M168 485.5h1M201 534.5h1M194 479.5h1M196 485.5h1M182 483.5h1M164 451.5h1M158 478.5h1M177 459.5h1M154 512.5h1M208 492.5h1M158 478.5h1M159 499.5h1M188 486.5h1M177 457.5h1M189 502.5h1M185 504.5h1M194 485.5h1M170 502.5h1M186 483.5h1M168 517.5h1M174 485.5h1M190 444.5h1M179 464.5h1M181 487.5h1M175 468.5h1M169 458.5h1M184 469.5h1M202 496.5h1M177 469.5h1M192 504.5h1M188 504.5h1M181 506.5h1M177 505.5h1M204 456.5h1M176 498.5h1M184 521.5h1M168 466.5h1M185 506.5h1M183 500.5h1M186 458.5h1M207 475.5h1M190 484.5h1M169 487.5h1M160 457.5h1M164 487.5h1M162 504.5h1M187 493.5h1M153 463.5h1M174 484.5h1M178 500.5h1M178 484.5h1M185 486.5h1M195 511.5h1M179 498.5h1M179 503.5h1M162 506.5h1M175 515.5h1M190 488.5h1M206 456.5h1M170 500.5h1M168 473.5h1M195 466.5h1M191 506.5h1M187 460.5h1M178 493.5h1M170 478.5h1M177 481.5h1M167 502.5h1M168 476.5h1M155 483.5h1M182 491.5h1M194 480.5h1M189 477.5h1M166 492.5h1M170 510.5h1M195 482.5h1M184 480.5h1M176 473.5h1M179 484.5h1M178 483.5h1M175 512.5h1M205 503.5h1M172 460.5h1M181 504.5h1M198 516.5h1M174 488.5h1M198 467.5h1M194 485.5h1M170 520.5h1M158 504.5h1M172 513.5h1M176 467.5h1M169 488.5h1M167 482.5h1M187 473.5h1M169 481.5h1M187 492.5h1M166 505.5h1M173 532.5h1M193 491.5h1M160 511.5h1M195 465.5h1M173 510.5h1M179 523.5h1M191 463.5h1M184 509.5h1M184 502.5h1M189 499.5h1M184 464.5h1M186 481.5h1M174 471.5h1M178 491.5h1M182 463.5h1M175 477.5h1M176 514.5h1M176 479.5h1M175 499.5h1M186 478.5h1M167 488.5h1M189 491.5h1M161 482.5h1M181 463.5h1M191 505.5h1M185 499.5h1M178 513.5h1M173 475.5h1M169 515.5h1M158 475.5h1M191 515.5h1M179 486.5h1M185 497.5h1M186 472.5h1M189 522.5h1M204 520.5h1M188 497.5h1M171 482.5h1M183 465.5h1M189 447.5h1M181 461.5h1M207 503.5h1M198 464.5h1M172 493.5h1M197 504.5h1M190 490.5h1M195 529.5h1M143 501.5h1M186 512.5h1M142 458.5h1M182 514.5h1M174 518.5h1M181 508.5h1M175 517.5h1M181 505.5h1M194 490.5h1M204 484.5h1M176 520.5h1M181 473.5h1M184 540.5h1M189 490.5h1M190 507.5h1M166 543.5h1M157 496.5h1M180 469.5h1M160 456.5h1M189 504.5h1M192 498.5h1M169 476.5h1M188 486.5h1M177 483.5h1M177 498.5h1M166 516.5h1M201 491.5h1M146 443.5h1M189 474.5h1M154 496.5h1M175 482.5h1M189 464.5h1M208 506.5h1M202 451.5h1M194 486.5h1M173 485.5h1M185 524.5h1M191 526.5h1M184 514.5h1M165 492.5h1M173 507.5h1M186 457.5h1M193 492.5h1M159 510.5h1M195 505.5h1M182 493.5h1M174 485.5h1M191 463.5h1M166 505.5h1M167 489.5h1M191 488.5h1M183 487.5h1M168 498.5h1M199 508.5h1M181 503.5h1M186 486.5h1M157 495.5h1M165 447.5h1M165 476.5h1M165 475.5h1M187 455.5h1M204 520.5h1M175 526.5h1M174 466.5h1M181 463.5h1M198 500.5h1M173 487.5h1M176 469.5h1M169 516.5h1M191 520.5h1M176 464.5h1M165 475.5h1M195 495.5h1M177 490.5h1M160 494.5h1M172 509.5h1M167 491.5h1M154 451.5h1M170 511.5h1M158 478.5h1M167 484.5h1M186 505.5h1M194 472.5h1M194 512.5h1M184 468.5h1M180 480.5h1M192 492.5h1M176 455.5h1M194 481.5h1M204 516.5h1M201 481.5h1M167 494.5h1M185 491.5h1M194 506.5h1M165 482.5h1M178 478.5h1M175 487.5h1M163 502.5h1M181 485.5h1M170 478.5h1M193 478.5h1M184 511.5h1M173 443.5h1M180 494.5h1M193 498.5h1M179 489.5h1M188 503.5h1M174 490.5h1M203 494.5h1M184 488.5h1M179 461.5h1M166 469.5h1M150 475.5h1M174 485.5h1M196 502.5h1M193 473.5h1M188 458.5h1M179 477.5h1M193 450.5h1M168 504.5h1M169 503.5h1M184 462.5h1M169 467.5h1M198 503.5h1M163 528.5h1M170 530.5h1M169 437.5h1M203 468.5h1M170 502.5h1M190 482.5h1M168 520.5h1M168 456.5h1M195 481.5h1M177 495.5h1M170 499.5h1M156 500.5h1M177 498.5h1M174 474.5h1M207 501.5h1M177 489.5h1M180 499.5h1M173 505.5h1M162 505.5h1M160 497.5h1M163 454.5h1M184 454.5h1M201 471.5h1M203 521.5h1M173 479.5h1M185 503.5h1M206 520.5h1M191 491.5h1M174 485.5h1M168 495.5h1M181 463.5h1M187 477.5h1M187 474.5h1M172 462.5h1M179 506.5h1M182 493.5h1M195 464.5h1M170 476.5h1M184 477.5h1M181 472.5h1M183 494.5h1M169 501.5h1M181 482.5h1M183 467.5h1M201 509.5h1M166 455.5h1M195 498.5h1M160 483.5h1M182 465.5h1M197 480.5h1M171 500.5h1M192 446.5h1M184 443.5h1M188 444.5h1M171 460.5h1M197 468.5h1M171 456.5h1M178 469.5h1M159 441.5h1M183 440.5h1M170 457.5h1M180 457.5h1M160 443.5h1M178 455.5h1M168 439.5h1M161 435.5h1M176 462.5h1M172 441.5h1M170 469.5h1M168 452.5h1M189 467.5h1M189 439.5h1M191 453.5h1M167 439.5h1M191 476.5h1M171 492.5h1M189 473.5h1M178 441.5h1M161 448.5h1M177 472.5h1M199 453.5h1M171 452.5h1M173 469.5h1M176 446.5h1M159 475.5h1M193 476.5h1M178 463.5h1M163 468.5h1M179 460.5h1M190 456.5h1M194 456.5h1M175 451.5h1M187 448.5h1M179 460.5h1M179 477.5h1M187 467.5h1M170 463.5h1M202 484.5h1M177 435.5h1M184 454.5h1M173 483.5h1M188 447.5h1M196 435.5h1M180 452.5h1M152 462.5h1M184 443.5h1M208 438.5h1M188 460.5h1M181 459.5h1M184 444.5h1M179 479.5h1M165 422.5h1M201 464.5h1M178 449.5h1M186 454.5h1M154 475.5h1M184 449.5h1M186 439.5h1M183 455.5h1M183 446.5h1M173 433.5h1M167 448.5h1M192 438.5h1M166 469.5h1M178 449.5h1M194 490.5h1M177 455.5h1M187 454.5h1M180 457.5h1M155 447.5h1M148 460.5h1M169 454.5h1M168 448.5h1M186 451.5h1M196 444.5h1M179 448.5h1M188 449.5h1M183 490.5h1M178 459.5h1M174 467.5h1M183 467.5h1M190 443.5h1M181 448.5h1M164 471.5h1M177 470.5h1M182 458.5h1M203 465.5h1M199 471.5h1M178 448.5h1M186 488.5h1M181 453.5h1M160 464.5h1M177 454.5h1M199 475.5h1M169 439.5h1M198 437.5h1M181 446.5h1M148 453.5h1M168 476.5h1M166 446.5h1M202 464.5h1M177 444.5h1M172 455.5h1M190 444.5h1M178 492.5h1M179 450.5h1M175 465.5h1M168 453.5h1M184 455.5h1M182 443.5h1M186 459.5h1M166 463.5h1M182 440.5h1M188 462.5h1M192 450.5h1M175 452.5h1M167 457.5h1M190 447.5h1M192 472.5h1M175 466.5h1M188 447.5h1M166 454.5h1M181 455.5h1M182 452.5h1M174 454.5h1M196 456.5h1M190 466.5h1M194 459.5h1M173 460.5h1M177 460.5h1M174 437.5h1M194 452.5h1M188 459.5h1M193 461.5h1M181 467.5h1M199 444.5h1M197 444.5h1M149 457.5h1M196 452.5h1M160 454.5h1M191 465.5h1M166 465.5h1M141 455.5h1M170 462.5h1M179 460.5h1M203 469.5h1M178 485.5h1M172 482.5h1M191 459.5h1M172 448.5h1M166 461.5h1M169 470.5h1M177 466.5h1M179 472.5h1M159 442.5h1M186 463.5h1M184 471.5h1M186 476.5h1M187 454.5h1M180 450.5h1M180 438.5h1M190 477.5h1M167 438.5h1M174 454.5h1M174 440.5h1M197 448.5h1M176 462.5h1M201 465.5h1M152 439.5h1M195 474.5h1M186 451.5h1M185 438.5h1M199 467.5h1M180 446.5h1M195 462.5h1M198 468.5h1M194 479.5h1M189 433.5h1M203 468.5h1M141 454.5h1M197 456.5h1M185 475.5h1M174 474.5h1M164 465.5h1M201 454.5h1M171 460.5h1M168 465.5h1M184 477.5h1M185 466.5h1M196 470.5h1M184 469.5h1M188 480.5h1M174 469.5h1M159 463.5h1M178 466.5h1M167 467.5h1M171 446.5h1M188 442.5h1M194 436.5h1M182 455.5h1M183 462.5h1M191 453.5h1M189 454.5h1M197 474.5h1M191 458.5h1M174 461.5h1M190 447.5h1M180 448.5h1M188 445.5h1M197 448.5h1M178 471.5h1M202 467.5h1M194 456.5h1M206 458.5h1M179 482.5h1M192 457.5h1M175 462.5h1M201 452.5h1M195 460.5h1M187 445.5h1M180 441.5h1M180 433.5h1M176 462.5h1M185 460.5h1M182 457.5h1M201 462.5h1M200 446.5h1M186 459.5h1M177 458.5h1M191 456.5h1M197 449.5h1M199 463.5h1M190 436.5h1M175 454.5h1M165 451.5h1M173 449.5h1M168 456.5h1M170 457.5h1M189 429.5h1M189 451.5h1M209 444.5h1M169 450.5h1M107 542.5h1M85 538.5h1M115 550.5h1M92 535.5h1M97 549.5h1M70 558.5h1M90 539.5h1M92 552.5h1M95 549.5h1M96 529.5h1M98 539.5h1M100 532.5h1M105 528.5h1M91 542.5h1M109 551.5h1M97 552.5h1M103 553.5h1M104 555.5h1M117 549.5h1M99 550.5h1M106 535.5h1M100 561.5h1M105 541.5h1M112 547.5h1M96 530.5h1M98 556.5h1M109 539.5h1M94 557.5h1M118 532.5h1M99 536.5h1M117 547.5h1M102 531.5h1M93 549.5h1M116 543.5h1M97 546.5h1M98 540.5h1M91 533.5h1M94 543.5h1M101 535.5h1M95 552.5h1M112 545.5h1M102 539.5h1M86 555.5h1M93 561.5h1M99 541.5h1M89 533.5h1M96 547.5h1M79 556.5h1M107 554.5h1M97 536.5h1M97 542.5h1M111 545.5h1M107 533.5h1M98 542.5h1M87 542.5h1M99 554.5h1M97 547.5h1M93 547.5h1M81 523.5h1M83 553.5h1M106 542.5h1M92 527.5h1M90 539.5h1M104 547.5h1M101 553.5h1M85 537.5h1M86 547.5h1M87 553.5h1M109 558.5h1M108 545.5h1M100 531.5h1M102 518.5h1M91 544.5h1M102 549.5h1M101 544.5h1M87 542.5h1M95 554.5h1M87 551.5h1M91 546.5h1M91 535.5h1M81 543.5h1M107 547.5h1M104 545.5h1M96 543.5h1M102 540.5h1M93 542.5h1M134 511.5h1M155 496.5h1M152 509.5h1M155 464.5h1M156 487.5h1M146 498.5h1M157 492.5h1M146 518.5h1M134 476.5h1M139 469.5h1M137 474.5h1M145 498.5h1M141 478.5h1M164 501.5h1M150 512.5h1M133 480.5h1M161 475.5h1M139 475.5h1M139 477.5h1M142 509.5h1M133 502.5h1M163 479.5h1M154 506.5h1M141 470.5h1M145 509.5h1M96 467.5h1M101 499.5h1M106 516.5h1M97 489.5h1M80 519.5h1M91 517.5h1M92 522.5h1M92 503.5h1M93 472.5h1M102 510.5h1" stroke="#111" stroke-width="1" fill="none"/>
<rect x="69.5" y="421.3" width="141.0" height="141.7" fill="none" stroke="#222" stroke-width="1.3"/>
<line x1="110.8" y1="421.3" x2="110.8" y2="563" stroke="#222" stroke-width="1.2"/>
<line x1="69.5" y1="525.5" x2="210.5" y2="525.5" stroke="#222" stroke-width="1.2"/>
<path d="M69.5 563v3M69.5 563.0h-3M80.1 563v2M69.5 552.3h-2M86.3 563v2M69.5 546.1h-2M90.7 563v2M69.5 541.7h-2M94.1 563v2M69.5 538.2h-2M96.9 563v2M69.5 535.4h-2M99.3 563v2M69.5 533.1h-2M101.3 563v2M69.5 531.0h-2M103.1 563v2M69.5 529.2h-2M104.8 563v3M69.5 527.6h-3M115.4 563v2M69.5 516.9h-2M121.6 563v2M69.5 510.7h-2M126.0 563v2M69.5 506.2h-2M129.4 563v2M69.5 502.8h-2M132.2 563v2M69.5 500.0h-2M134.5 563v2M69.5 497.6h-2M136.6 563v2M69.5 495.6h-2M138.4 563v2M69.5 493.8h-2M140.0 563v3M69.5 492.1h-3M150.6 563v2M69.5 481.5h-2M156.8 563v2M69.5 475.2h-2M161.2 563v2M69.5 470.8h-2M164.6 563v2M69.5 467.4h-2M167.4 563v2M69.5 464.6h-2M169.8 563v2M69.5 462.2h-2M171.8 563v2M69.5 460.2h-2M173.6 563v2M69.5 458.3h-2M175.2 563v3M69.5 456.7h-3M185.9 563v2M69.5 446.1h-2M192.1 563v2M69.5 439.8h-2M196.5 563v2M69.5 435.4h-2M199.9 563v2M69.5 432.0h-2M202.7 563v2M69.5 429.2h-2M205.0 563v2M69.5 426.8h-2M207.1 563v2M69.5 424.7h-2M208.9 563v2M69.5 422.9h-2M210.5 563v3M69.5 421.3h-3" stroke="#222" stroke-width="0.9" fill="none"/>
<g transform="translate(69.50,582.4)" font-family="'Liberation Sans', sans-serif" stroke="#000" stroke-width="0.35"><path d="M-8.61 0.00V-10.93M-8.81 -10.43Q-9.51 -8.29 -11.24 -7.83" stroke-width="1.6" fill="none"/><text x="-4.17" y="0" font-size="15.5">0</text><text x="4.45" y="-5" font-size="15">0</text></g>
<g transform="translate(61.8,563.90) rotate(-90)" font-family="'Liberation Sans', sans-serif" stroke="#000" stroke-width="0.35"><path d="M-8.61 0.00V-10.93M-8.81 -10.43Q-9.51 -8.29 -11.24 -7.83" stroke-width="1.6" fill="none"/><text x="-4.17" y="0" font-size="15.5">0</text><text x="4.45" y="-5" font-size="15">0</text></g>
<g transform="translate(104.75,582.4)" font-family="'Liberation Sans', sans-serif" stroke="#000" stroke-width="0.35"><path d="M-8.61 0.00V-10.93M-8.81 -10.43Q-9.51 -8.29 -11.24 -7.83M8.50 -5.00V-15.57M8.30 -15.07Q7.60 -13.02 5.95 -12.57" stroke-width="1.6" fill="none"/><text x="-4.17" y="0" font-size="15.5">0</text></g>
<g transform="translate(61.8,528.48) rotate(-90)" font-family="'Liberation Sans', sans-serif" stroke="#000" stroke-width="0.35"><path d="M-8.61 0.00V-10.93M-8.81 -10.43Q-9.51 -8.29 -11.24 -7.83M8.50 -5.00V-15.57M8.30 -15.07Q7.60 -13.02 5.95 -12.57" stroke-width="1.6" fill="none"/><text x="-4.17" y="0" font-size="15.5">0</text></g>
<g transform="translate(140.00,582.4)" font-family="'Liberation Sans', sans-serif" stroke="#000" stroke-width="0.35"><path d="M-8.61 0.00V-10.93M-8.81 -10.43Q-9.51 -8.29 -11.24 -7.83" stroke-width="1.6" fill="none"/><text x="-4.17" y="0" font-size="15.5">0</text><text x="4.45" y="-5" font-size="15">2</text></g>
<g transform="translate(61.8,493.05) rotate(-90)" font-family="'Liberation Sans', sans-serif" stroke="#000" stroke-width="0.35"><path d="M-8.61 0.00V-10.93M-8.81 -10.43Q-9.51 -8.29 -11.24 -7.83" stroke-width="1.6" fill="none"/><text x="-4.17" y="0" font-size="15.5">0</text><text x="4.45" y="-5" font-size="15">2</text></g>
<g transform="translate(175.25,582.4)" font-family="'Liberation Sans', sans-serif" stroke="#000" stroke-width="0.35"><path d="M-8.61 0.00V-10.93M-8.81 -10.43Q-9.51 -8.29 -11.24 -7.83" stroke-width="1.6" fill="none"/><text x="-4.17" y="0" font-size="15.5">0</text><text x="4.45" y="-5" font-size="15">3</text></g>
<g transform="translate(61.8,457.62) rotate(-90)" font-family="'Liberation Sans', sans-serif" stroke="#000" stroke-width="0.35"><path d="M-8.61 0.00V-10.93M-8.81 -10.43Q-9.51 -8.29 -11.24 -7.83" stroke-width="1.6" fill="none"/><text x="-4.17" y="0" font-size="15.5">0</text><text x="4.45" y="-5" font-size="15">3</text></g>
<g transform="translate(210.50,582.4)" font-family="'Liberation Sans', sans-serif" stroke="#000" stroke-width="0.35"><path d="M-8.61 0.00V-10.93M-8.81 -10.43Q-9.51 -8.29 -11.24 -7.83" stroke-width="1.6" fill="none"/><text x="-4.17" y="0" font-size="15.5">0</text><text x="4.45" y="-5" font-size="15">4</text></g>
<g transform="translate(61.8,422.20) rotate(-90)" font-family="'Liberation Sans', sans-serif" stroke="#000" stroke-width="0.35"><path d="M-8.61 0.00V-10.93M-8.81 -10.43Q-9.51 -8.29 -11.24 -7.83" stroke-width="1.6" fill="none"/><text x="-4.17" y="0" font-size="15.5">0</text><text x="4.45" y="-5" font-size="15">4</text></g>
<rect x="313" y="35.5" width="202.5" height="165.0" fill="none" stroke="#111" stroke-width="1.2"/>
<rect x="313" y="38.2" width="151.8" height="22.2" fill="#000"/>
<path d="M464.8 49.3H483.4M483.4 43.7v11.3" stroke="#161616" stroke-width="1.1" fill="none"/>
<rect x="313" y="65.6" width="33.4" height="22.2" fill="#000"/>
<path d="M346.4 76.7H359.5M359.5 71.1v11.3" stroke="#161616" stroke-width="1.1" fill="none"/>
<g fill="#111"><ellipse cx="366.50" cy="75.05" rx="1.35" ry="0.78" transform="rotate(-90 366.50 75.05)"/><ellipse cx="368.45" cy="76.17" rx="1.35" ry="0.78" transform="rotate(-30 368.45 76.17)"/><ellipse cx="364.55" cy="76.17" rx="1.35" ry="0.78" transform="rotate(-150 364.55 76.17)"/><ellipse cx="366.50" cy="79.55" rx="1.35" ry="0.78" transform="rotate(-270 366.50 79.55)"/><ellipse cx="364.55" cy="78.42" rx="1.35" ry="0.78" transform="rotate(-210 364.55 78.42)"/><ellipse cx="368.45" cy="78.42" rx="1.35" ry="0.78" transform="rotate(-330 368.45 78.42)"/></g>
<path d="M366.5 75.3V79.3M364.80 76.30L368.20 78.30M364.80 78.30L368.20 76.30" stroke="#333" stroke-width="0.6"/>
<path d="M313 63.0h-2" stroke="#111" stroke-width="1"/>
<rect x="313" y="93.0" width="93.8" height="22.2" fill="#000"/>
<path d="M406.8 104.1H440.5M440.5 98.5v11.3" stroke="#161616" stroke-width="1.1" fill="none"/>
<g fill="#111"><ellipse cx="447.60" cy="102.95" rx="1.35" ry="0.78" transform="rotate(-90 447.60 102.95)"/><ellipse cx="449.55" cy="104.08" rx="1.35" ry="0.78" transform="rotate(-30 449.55 104.08)"/><ellipse cx="445.65" cy="104.08" rx="1.35" ry="0.78" transform="rotate(-150 445.65 104.08)"/><ellipse cx="447.60" cy="107.45" rx="1.35" ry="0.78" transform="rotate(-270 447.60 107.45)"/><ellipse cx="445.65" cy="106.33" rx="1.35" ry="0.78" transform="rotate(-210 445.65 106.33)"/><ellipse cx="449.55" cy="106.33" rx="1.35" ry="0.78" transform="rotate(-330 449.55 106.33)"/></g>
<path d="M447.6 103.2V107.2M445.90 104.20L449.30 106.20M445.90 106.20L449.30 104.20" stroke="#333" stroke-width="0.6"/>
<path d="M313 90.4h-2" stroke="#111" stroke-width="1"/>
<rect x="313" y="120.5" width="178.2" height="22.2" fill="#000"/>
<path d="M491.2 131.6H507.8M507.8 125.9v11.3" stroke="#161616" stroke-width="1.1" fill="none"/>
<path d="M313 117.9h-2" stroke="#111" stroke-width="1"/>
<rect x="313" y="147.9" width="16.0" height="22.2" fill="#000"/>
<path d="M329 159.0H345M345 153.3v11.3" stroke="#161616" stroke-width="1.1" fill="none"/>
<g fill="#111"><ellipse cx="352.80" cy="158.35" rx="1.35" ry="0.78" transform="rotate(-90 352.80 158.35)"/><ellipse cx="354.75" cy="159.47" rx="1.35" ry="0.78" transform="rotate(-30 354.75 159.47)"/><ellipse cx="350.85" cy="159.47" rx="1.35" ry="0.78" transform="rotate(-150 350.85 159.47)"/><ellipse cx="352.80" cy="162.85" rx="1.35" ry="0.78" transform="rotate(-270 352.80 162.85)"/><ellipse cx="350.85" cy="161.72" rx="1.35" ry="0.78" transform="rotate(-210 350.85 161.72)"/><ellipse cx="354.75" cy="161.72" rx="1.35" ry="0.78" transform="rotate(-330 354.75 161.72)"/></g>
<path d="M352.8 158.6V162.6M351.10 159.60L354.50 161.60M351.10 161.60L354.50 159.60" stroke="#333" stroke-width="0.6"/>
<path d="M313 145.3h-2" stroke="#111" stroke-width="1"/>
<rect x="313" y="175.3" width="49.8" height="22.2" fill="#000"/>
<path d="M362.8 186.4H377.3M377.3 180.8v11.3" stroke="#161616" stroke-width="1.1" fill="none"/>
<g fill="#111"><ellipse cx="384.40" cy="185.65" rx="1.35" ry="0.78" transform="rotate(-90 384.40 185.65)"/><ellipse cx="386.35" cy="186.78" rx="1.35" ry="0.78" transform="rotate(-30 386.35 186.78)"/><ellipse cx="382.45" cy="186.78" rx="1.35" ry="0.78" transform="rotate(-150 382.45 186.78)"/><ellipse cx="384.40" cy="190.15" rx="1.35" ry="0.78" transform="rotate(-270 384.40 190.15)"/><ellipse cx="382.45" cy="189.03" rx="1.35" ry="0.78" transform="rotate(-210 382.45 189.03)"/><ellipse cx="386.35" cy="189.03" rx="1.35" ry="0.78" transform="rotate(-330 386.35 189.03)"/></g>
<path d="M384.4 185.9V189.9M382.70 186.90L386.10 188.90M382.70 188.90L386.10 186.90" stroke="#333" stroke-width="0.6"/>
<path d="M313 172.7h-2" stroke="#111" stroke-width="1"/>
<text x="306.1" y="55.2" text-anchor="end" font-family="'Liberation Serif', serif" font-weight="bold" font-size="10" stroke="#000" stroke-width="0.25">none</text>
<text x="305.1" y="82.5" text-anchor="end" font-family="'Liberation Serif', serif" font-weight="bold" font-size="10" stroke="#000" stroke-width="0.25">PD</text>
<text x="305.6" y="109.7" text-anchor="end" font-family="'Liberation Serif', serif" font-weight="bold" font-size="10" stroke="#000" stroke-width="0.25">hi SB</text>
<text x="307" y="136.6" text-anchor="end" font-family="'Liberation Serif', serif" font-weight="bold" font-size="10" stroke="#000" stroke-width="0.25">lo SB</text>
<text x="303.8" y="164.2" text-anchor="end" font-family="'Liberation Serif', serif" font-weight="bold" font-size="10" stroke="#000" stroke-width="0.25">PD + hi SB</text>
<text x="305.2" y="191.8" text-anchor="end" font-family="'Liberation Serif', serif" font-weight="bold" font-size="10" stroke="#000" stroke-width="0.25">PD + lo SB</text>
<path d="M313.0 199.5v3.5M338.3 200.5v2.5M363.6 199.5v3.5M388.9 200.5v2.5M414.2 199.5v3.5M439.6 200.5v2.5M464.9 199.5v3.5M490.2 200.5v2.5M515.5 199.5v3.5" stroke="#111" stroke-width="1" fill="none"/>
<text x="313.0" y="214.6" text-anchor="middle" font-family="'Liberation Serif', serif" font-weight="bold" font-size="8.5" stroke="#000" stroke-width="0.2">0</text>
<text x="363.6" y="214.6" text-anchor="middle" font-family="'Liberation Serif', serif" font-weight="bold" font-size="8.5" stroke="#000" stroke-width="0.2">10</text>
<text x="414.2" y="214.6" text-anchor="middle" font-family="'Liberation Serif', serif" font-weight="bold" font-size="8.5" stroke="#000" stroke-width="0.2">20</text>
<text x="464.9" y="214.6" text-anchor="middle" font-family="'Liberation Serif', serif" font-weight="bold" font-size="8.5" stroke="#000" stroke-width="0.2">30</text>
<text x="515.5" y="214.6" text-anchor="middle" font-family="'Liberation Serif', serif" font-weight="bold" font-size="8.5" stroke="#000" stroke-width="0.2">40</text>
<text x="416.5" y="231.6" text-anchor="middle" font-family="'Liberation Serif', serif" font-weight="bold" font-size="12.7" stroke="#000" stroke-width="0.2">% HECA-452+</text>
<rect x="313" y="260.5" width="201.60000000000002" height="164.39999999999998" fill="none" stroke="#111" stroke-width="1.2"/>
<rect x="313" y="262.8" width="41.0" height="22.0" fill="#000"/>
<path d="M354 273.8H364.2M364.2 268.5v10.6" stroke="#161616" stroke-width="1.1" fill="none"/>
<rect x="313" y="290.2" width="46.0" height="22.0" fill="#000"/>
<path d="M359 301.2H377.4M377.4 295.9v10.6" stroke="#161616" stroke-width="1.1" fill="none"/>
<path d="M313 287.5h-2" stroke="#111" stroke-width="1"/>
<rect x="313" y="317.6" width="132.6" height="22.0" fill="#000"/>
<path d="M445.6 328.6H469.5M469.5 323.3v10.6" stroke="#161616" stroke-width="1.1" fill="none"/>
<g fill="#111"><ellipse cx="476.40" cy="327.55" rx="1.35" ry="0.78" transform="rotate(-90 476.40 327.55)"/><ellipse cx="478.35" cy="328.68" rx="1.35" ry="0.78" transform="rotate(-30 478.35 328.68)"/><ellipse cx="474.45" cy="328.68" rx="1.35" ry="0.78" transform="rotate(-150 474.45 328.68)"/><ellipse cx="476.40" cy="332.05" rx="1.35" ry="0.78" transform="rotate(-270 476.40 332.05)"/><ellipse cx="474.45" cy="330.93" rx="1.35" ry="0.78" transform="rotate(-210 474.45 330.93)"/><ellipse cx="478.35" cy="330.93" rx="1.35" ry="0.78" transform="rotate(-330 478.35 330.93)"/></g>
<path d="M476.4 327.8V331.8M474.70 328.80L478.10 330.80M474.70 330.80L478.10 328.80" stroke="#333" stroke-width="0.6"/>
<path d="M313 314.9h-2" stroke="#111" stroke-width="1"/>
<rect x="313" y="344.9" width="153.0" height="22.0" fill="#000"/>
<path d="M466 355.9H501.8M501.8 350.6v10.6" stroke="#161616" stroke-width="1.1" fill="none"/>
<g fill="#111"><ellipse cx="507.40" cy="355.65" rx="1.35" ry="0.78" transform="rotate(-90 507.40 355.65)"/><ellipse cx="509.35" cy="356.77" rx="1.35" ry="0.78" transform="rotate(-30 509.35 356.77)"/><ellipse cx="505.45" cy="356.77" rx="1.35" ry="0.78" transform="rotate(-150 505.45 356.77)"/><ellipse cx="507.40" cy="360.15" rx="1.35" ry="0.78" transform="rotate(-270 507.40 360.15)"/><ellipse cx="505.45" cy="359.02" rx="1.35" ry="0.78" transform="rotate(-210 505.45 359.02)"/><ellipse cx="509.35" cy="359.02" rx="1.35" ry="0.78" transform="rotate(-330 509.35 359.02)"/></g>
<path d="M507.4 355.9V359.9M505.70 356.90L509.10 358.90M505.70 358.90L509.10 356.90" stroke="#333" stroke-width="0.6"/>
<path d="M313 342.2h-2" stroke="#111" stroke-width="1"/>
<rect x="313" y="372.3" width="36.6" height="22.0" fill="#000"/>
<path d="M349.6 383.3H362.5M362.5 378.0v10.6" stroke="#161616" stroke-width="1.1" fill="none"/>
<path d="M313 369.6h-2" stroke="#111" stroke-width="1"/>
<rect x="313" y="399.7" width="60.8" height="22.0" fill="#000"/>
<path d="M373.8 410.7H388M388 405.4v10.6" stroke="#161616" stroke-width="1.1" fill="none"/>
<path d="M313 397.0h-2" stroke="#111" stroke-width="1"/>
<text x="305.5" y="278.5" text-anchor="end" font-family="'Liberation Serif', serif" font-weight="bold" font-size="10" stroke="#000" stroke-width="0.25">none</text>
<text x="304.8" y="305.9" text-anchor="end" font-family="'Liberation Serif', serif" font-weight="bold" font-size="10" stroke="#000" stroke-width="0.25">PD</text>
<text x="305.4" y="333.2" text-anchor="end" font-family="'Liberation Serif', serif" font-weight="bold" font-size="10" stroke="#000" stroke-width="0.25">hi SB</text>
<text x="306.3" y="360" text-anchor="end" font-family="'Liberation Serif', serif" font-weight="bold" font-size="10" stroke="#000" stroke-width="0.25">lo SB</text>
<text x="303.8" y="387.5" text-anchor="end" font-family="'Liberation Serif', serif" font-weight="bold" font-size="10" stroke="#000" stroke-width="0.25">PD + hi SB</text>
<text x="305.2" y="415.1" text-anchor="end" font-family="'Liberation Serif', serif" font-weight="bold" font-size="10" stroke="#000" stroke-width="0.25">PD + lo SB</text>
<path d="M313.0 423.9v3.5M338.2 424.9v2.5M363.4 423.9v3.5M388.6 424.9v2.5M413.8 423.9v3.5M439.0 424.9v2.5M464.2 423.9v3.5M489.4 424.9v2.5M514.6 423.9v3.5" stroke="#111" stroke-width="1" fill="none"/>
<text x="313.0" y="441.2" text-anchor="middle" font-family="'Liberation Serif', serif" font-weight="bold" font-size="9.2" stroke="#000" stroke-width="0.2">0</text>
<text x="363.4" y="441.2" text-anchor="middle" font-family="'Liberation Serif', serif" font-weight="bold" font-size="9.2" stroke="#000" stroke-width="0.2">10</text>
<text x="413.8" y="441.2" text-anchor="middle" font-family="'Liberation Serif', serif" font-weight="bold" font-size="9.2" stroke="#000" stroke-width="0.2">20</text>
<text x="464.2" y="441.2" text-anchor="middle" font-family="'Liberation Serif', serif" font-weight="bold" font-size="9.2" stroke="#000" stroke-width="0.2">30</text>
<text x="514.6" y="441.2" text-anchor="middle" font-family="'Liberation Serif', serif" font-weight="bold" font-size="9.2" stroke="#000" stroke-width="0.2">40</text>
<text x="418" y="459" text-anchor="middle" font-family="'Liberation Serif', serif" font-weight="bold" font-size="12.7" stroke="#000" stroke-width="0.2">% HECA-452+</text>
<text x="19" y="18.8" font-family="'Liberation Sans', sans-serif" font-weight="bold" font-size="25">A</text>
<text x="259.3" y="20" font-family="'Liberation Sans', sans-serif" font-weight="bold" font-size="25">B</text>
<text x="18.5" y="218.8" font-family="'Liberation Sans', sans-serif" font-weight="bold" font-size="25">C</text>
<text x="260" y="257.2" font-family="'Liberation Sans', sans-serif" font-weight="bold" font-size="25">D</text>
<text x="21" y="409" font-family="'Liberation Sans', sans-serif" font-weight="bold" font-size="25">E</text>
<path d="M9.4 58V253.5M9.2 343.5V549.5" stroke="#000" stroke-width="2" fill="none"/>
<path d="M9.5 47.5L5.6 58.5H13.4Z" fill="#000"/>
<text transform="translate(16,300.5) rotate(-90)" text-anchor="middle" font-family="'Liberation Serif', serif" font-weight="bold" font-size="17.5">HECA-452</text>
<path d="M83 598H123.8M156.4 598H184" stroke="#000" stroke-width="1.8" fill="none"/>
<path d="M194.5 598L182.5 594.8V601.2Z" fill="#000"/>
<text x="138.7" y="602" text-anchor="middle" font-family="'Liberation Serif', serif" font-weight="bold" font-size="12.5">GFP</text>
</svg>
</body></html>
